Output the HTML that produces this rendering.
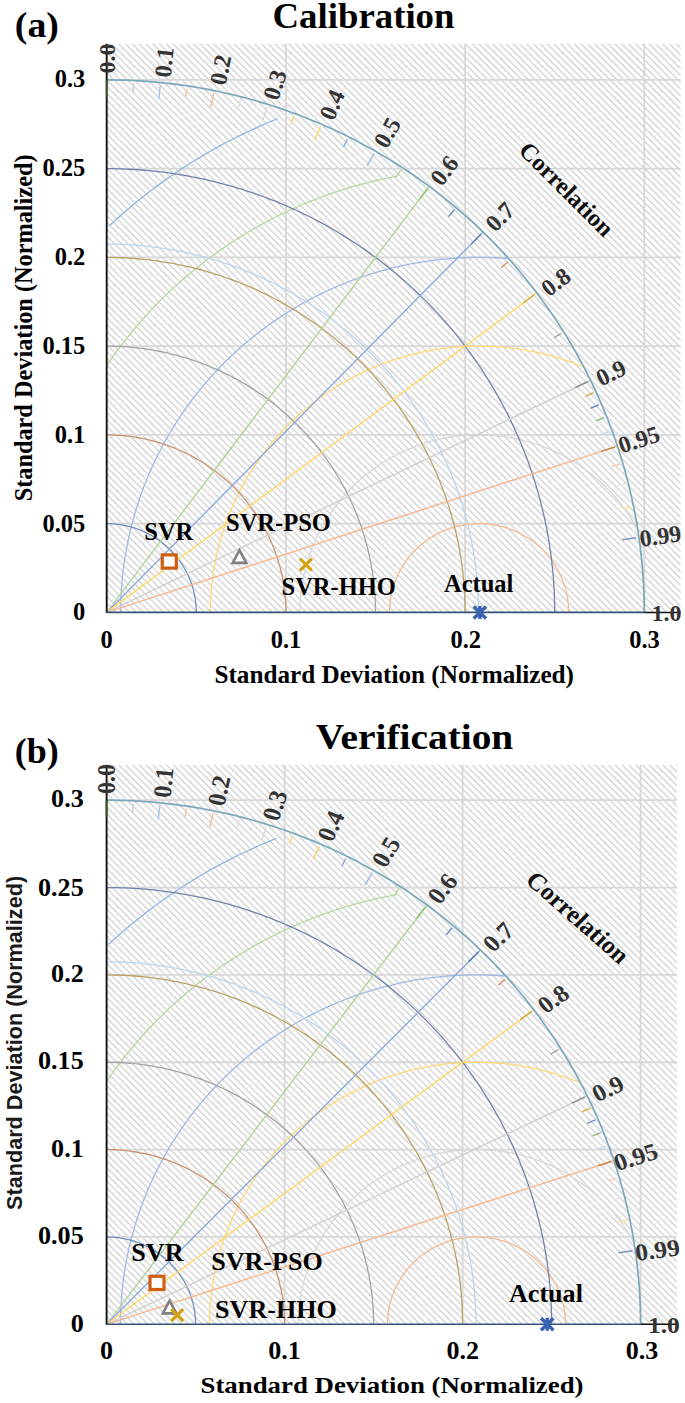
<!DOCTYPE html>
<html><head><meta charset="utf-8"><style>
html,body{margin:0;padding:0;background:#fff;width:685px;height:1403px;overflow:hidden}
svg{position:absolute;left:0;top:0}
text{font-family:"Liberation Serif",serif;font-weight:bold;fill:#000}
.cl{font-size:24px;fill:#333}
.cor{font-size:24.5px;fill:#111}
.dl{font-size:24.5px}
.tk{font-size:24.5px}
.ti{font-size:36.8px}
.pl{font-size:36px}
.ax{font-size:25px}
.axs{font-family:"Liberation Sans",sans-serif;font-weight:bold;fill:#1a1a1a}
</style></head><body>
<svg width="685" height="1403" viewBox="0 0 685 1403">
<defs>
<pattern id="hatch" patternUnits="userSpaceOnUse" width="6.8" height="6.8">
<path d="M-1,-1 L7.8,7.8 M-1,5.8 L1,7.8 M5.8,-1 L7.8,1" stroke="#cfcfcf" stroke-width="1.3"/>
</pattern>
</defs>
<rect x="106.7" y="43.8" width="573.8" height="568.6" fill="url(#hatch)"/>
<line x1="106.7" y1="523.65" x2="680.5" y2="523.65" stroke="#d8d8d8" stroke-width="1.8"/>
<line x1="106.7" y1="434.9" x2="680.5" y2="434.9" stroke="#d8d8d8" stroke-width="1.8"/>
<line x1="106.7" y1="346.15" x2="680.5" y2="346.15" stroke="#d8d8d8" stroke-width="1.8"/>
<line x1="106.7" y1="257.4" x2="680.5" y2="257.4" stroke="#d8d8d8" stroke-width="1.8"/>
<line x1="106.7" y1="168.65" x2="680.5" y2="168.65" stroke="#d8d8d8" stroke-width="1.8"/>
<line x1="106.7" y1="79.9" x2="680.5" y2="79.9" stroke="#d8d8d8" stroke-width="1.8"/>
<line x1="285.9" y1="43.8" x2="285.9" y2="612.4" stroke="#d8d8d8" stroke-width="1.8"/>
<line x1="465.1" y1="43.8" x2="465.1" y2="612.4" stroke="#d8d8d8" stroke-width="1.8"/>
<line x1="644.3" y1="43.8" x2="644.3" y2="612.4" stroke="#d8d8d8" stroke-width="1.8"/>
<path d="M568.68,612.4 L568.67,611.63 L568.66,610.85 L568.65,610.08 L568.62,609.3 L568.59,608.53 L568.55,607.76 L568.51,606.98 L568.46,606.21 L568.4,605.44 L568.34,604.66 L568.27,603.89 L568.19,603.12 L568.1,602.35 L568.01,601.58 L567.91,600.82 L567.81,600.05 L567.69,599.28 L567.57,598.52 L567.45,597.75 L567.32,596.99 L567.18,596.23 L567.03,595.47 L566.88,594.71 L566.72,593.95 L566.55,593.19 L566.38,592.44 L566.2,591.68 L566.02,590.93 L565.82,590.18 L565.62,589.43 L565.42,588.68 L565.21,587.94 L564.99,587.19 L564.76,586.45 L564.53,585.71 L564.29,584.97 L564.05,584.24 L563.8,583.51 L563.54,582.77 L563.27,582.05 L563,581.32 L562.73,580.59 L562.44,579.87 L562.15,579.15 L561.86,578.44 L561.55,577.72 L561.25,577.01 L560.93,576.3 L560.61,575.6 L560.28,574.89 L559.95,574.19 L559.61,573.49 L559.26,572.8 L558.91,572.11 L558.55,571.42 L558.19,570.73 L557.82,570.05 L557.44,569.37 L557.06,568.7 L556.67,568.02 L556.28,567.36 L555.88,566.69 L555.47,566.03 L555.06,565.37 L554.65,564.71 L554.22,564.06 L553.79,563.42 L553.36,562.77 L552.92,562.13 L552.47,561.5 L552.02,560.86 L551.57,560.23 L551.1,559.61 L550.64,558.99 L550.16,558.37 L549.68,557.76 L549.2,557.15 L548.71,556.55 L548.22,555.95 L547.72,555.35 L547.21,554.76 L546.7,554.17 L546.18,553.59 L545.66,553.01 L545.14,552.44 L544.61,551.87 L544.07,551.31 L543.53,550.75 L542.98,550.19 L542.43,549.64 L541.88,549.1 L541.32,548.56 L540.75,548.02 L540.18,547.49 L539.61,546.97 L539.03,546.45 L538.45,545.93 L537.86,545.42 L537.27,544.91 L536.67,544.41 L536.07,543.92 L535.46,543.43 L534.85,542.94 L534.24,542.46 L533.62,541.99 L533,541.52 L532.37,541.06 L531.74,540.6 L531.11,540.15 L530.47,539.7 L529.83,539.26 L529.18,538.82 L528.53,538.39 L527.88,537.97 L527.22,537.55 L526.56,537.14 L525.89,536.73 L525.23,536.33 L524.55,535.93 L523.88,535.54 L523.2,535.16 L522.52,534.78 L521.83,534.4 L521.14,534.04 L520.45,533.68 L519.76,533.32 L519.06,532.97 L518.36,532.63 L517.65,532.3 L516.94,531.97 L516.23,531.64 L515.52,531.32 L514.81,531.01 L514.09,530.71 L513.37,530.41 L512.64,530.11 L511.92,529.83 L511.19,529.54 L510.46,529.27 L509.72,529 L508.99,528.74 L508.25,528.49 L507.51,528.24 L506.77,527.99 L506.02,527.76 L505.27,527.53 L504.53,527.3 L503.77,527.09 L503.02,526.88 L502.27,526.67 L501.51,526.48 L500.75,526.29 L499.99,526.1 L499.23,525.92 L498.47,525.75 L497.71,525.59 L496.94,525.43 L496.17,525.28 L495.41,525.14 L494.64,525 L493.87,524.87 L493.09,524.74 L492.32,524.62 L491.55,524.51 L490.77,524.41 L490,524.31 L489.22,524.22 L488.44,524.14 L487.67,524.06 L486.89,523.99 L486.11,523.92 L485.33,523.87 L484.55,523.82 L483.77,523.77 L482.99,523.73 L482.2,523.7 L481.42,523.68 L480.64,523.66 L479.86,523.65 L479.08,523.65 L478.3,523.65 L477.51,523.66 L476.73,523.68 L475.95,523.7 L475.17,523.73 L474.39,523.77 L473.61,523.82 L472.83,523.87 L472.05,523.92 L471.27,523.99 L470.49,524.06 L469.71,524.14 L468.93,524.22 L468.16,524.31 L467.38,524.41 L466.61,524.51 L465.83,524.62 L465.06,524.74 L464.29,524.87 L463.52,525 L462.75,525.14 L461.98,525.28 L461.21,525.43 L460.45,525.59 L459.68,525.75 L458.92,525.92 L458.16,526.1 L457.4,526.29 L456.64,526.48 L455.89,526.67 L455.13,526.88 L454.38,527.09 L453.63,527.3 L452.88,527.53 L452.13,527.76 L451.39,527.99 L450.65,528.24 L449.91,528.49 L449.17,528.74 L448.43,529 L447.7,529.27 L446.97,529.54 L446.24,529.83 L445.51,530.11 L444.79,530.41 L444.07,530.71 L443.35,531.01 L442.63,531.32 L441.92,531.64 L441.21,531.97 L440.5,532.3 L439.8,532.63 L439.1,532.97 L438.4,533.32 L437.7,533.68 L437.01,534.04 L436.32,534.4 L435.64,534.78 L434.96,535.16 L434.28,535.54 L433.6,535.93 L432.93,536.33 L432.26,536.73 L431.6,537.14 L430.94,537.55 L430.28,537.97 L429.62,538.39 L428.97,538.82 L428.33,539.26 L427.69,539.7 L427.05,540.15 L426.41,540.6 L425.78,541.06 L425.15,541.52 L424.53,541.99 L423.91,542.46 L423.3,542.94 L422.69,543.43 L422.08,543.92 L421.48,544.41 L420.89,544.91 L420.29,545.42 L419.71,545.93 L419.12,546.45 L418.54,546.97 L417.97,547.49 L417.4,548.02 L416.84,548.56 L416.28,549.1 L415.72,549.64 L415.17,550.19 L414.62,550.75 L414.08,551.31 L413.55,551.87 L413.02,552.44 L412.49,553.01 L411.97,553.59 L411.46,554.17 L410.95,554.76 L410.44,555.35 L409.94,555.95 L409.45,556.55 L408.96,557.15 L408.47,557.76 L407.99,558.37 L407.52,558.99 L407.05,559.61 L406.59,560.23 L406.13,560.86 L405.68,561.5 L405.24,562.13 L404.8,562.77 L404.36,563.42 L403.93,564.06 L403.51,564.71 L403.09,565.37 L402.68,566.03 L402.28,566.69 L401.88,567.36 L401.48,568.02 L401.09,568.7 L400.71,569.37 L400.34,570.05 L399.97,570.73 L399.6,571.42 L399.24,572.11 L398.89,572.8 L398.55,573.49 L398.21,574.19 L397.87,574.89 L397.55,575.6 L397.22,576.3 L396.91,577.01 L396.6,577.72 L396.3,578.44 L396,579.15 L395.71,579.87 L395.43,580.59 L395.15,581.32 L394.88,582.05 L394.62,582.77 L394.36,583.51 L394.11,584.24 L393.86,584.97 L393.62,585.71 L393.39,586.45 L393.17,587.19 L392.95,587.94 L392.74,588.68 L392.53,589.43 L392.33,590.18 L392.14,590.93 L391.95,591.68 L391.77,592.44 L391.6,593.19 L391.44,593.95 L391.28,594.71 L391.12,595.47 L390.98,596.23 L390.84,596.99 L390.71,597.75 L390.58,598.52 L390.46,599.28 L390.35,600.05 L390.24,600.82 L390.15,601.58 L390.05,602.35 L389.97,603.12 L389.89,603.89 L389.82,604.66 L389.75,605.44 L389.7,606.21 L389.64,606.98 L389.6,607.76 L389.56,608.53 L389.53,609.3 L389.51,610.08 L389.49,610.85 L389.48,611.63 L389.48,612.4" fill="none" stroke="#f5bb93" stroke-width="1.3" />
<path d="M637.3,529.07 L636.56,527.7 L635.81,526.35 L635.05,524.99 L634.27,523.65 L633.48,522.31 L632.68,520.98 L631.87,519.66 L631.05,518.34 L630.21,517.03 L629.37,515.73 L628.51,514.43 L627.64,513.14 L626.76,511.86 L625.87,510.59 L624.97,509.33 L624.05,508.07 L623.13,506.82 L622.19,505.58 L621.25,504.34 L620.29,503.12 L619.32,501.9 L618.34,500.7 L617.35,499.5 L616.35,498.31 L615.34,497.12 L614.32,495.95 L613.29,494.78 L612.25,493.63 L611.2,492.48 L610.14,491.35 L609.06,490.22 L607.98,489.1 L606.89,487.99 L605.79,486.89 L604.68,485.8 L603.56,484.72 L602.43,483.65 L601.29,482.58 L600.14,481.53 L598.99,480.49 L597.82,479.46 L596.64,478.44 L595.46,477.43 L594.27,476.43 L593.06,475.44 L591.85,474.46 L590.63,473.49 L589.4,472.53 L588.17,471.58 L586.92,470.64 L585.67,469.72 L584.41,468.8 L583.14,467.89 L581.86,467 L580.58,466.12 L579.28,465.25 L577.98,464.39 L576.68,463.54 L575.36,462.7 L574.04,461.87 L572.71,461.06 L571.37,460.25 L570.03,459.46 L568.68,458.68 L567.32,457.91 L565.96,457.16 L564.58,456.41 L563.21,455.68 L561.82,454.96 L560.43,454.25 L559.04,453.55 L557.63,452.86 L556.23,452.19 L554.81,451.53 L553.39,450.88 L551.96,450.25 L550.53,449.62 L549.1,449.01 L547.65,448.41 L546.21,447.82 L544.75,447.25 L543.3,446.69 L541.83,446.14 L540.37,445.6 L538.9,445.08 L537.42,444.57 L535.94,444.07 L534.45,443.59 L532.96,443.12 L531.47,442.66 L529.97,442.21 L528.47,441.78 L526.97,441.36 L525.46,440.95 L523.95,440.55 L522.43,440.17 L520.91,439.8 L519.39,439.45 L517.86,439.11 L516.34,438.78 L514.8,438.46 L513.27,438.16 L511.73,437.87 L510.2,437.6 L508.65,437.33 L507.11,437.09 L505.57,436.85 L504.02,436.63 L502.47,436.42 L500.92,436.22 L499.36,436.04 L497.81,435.87 L496.25,435.72 L494.7,435.58 L493.14,435.45 L491.58,435.33 L490.02,435.23 L488.46,435.14 L486.89,435.07 L485.33,435.01 L483.77,434.96 L482.21,434.93 L480.64,434.91 L479.08,434.9 L477.51,434.91 L475.95,434.93 L474.39,434.96 L472.82,435.01 L471.26,435.07 L469.7,435.14 L468.14,435.23 L466.58,435.33 L465.02,435.45 L463.46,435.58 L461.9,435.72 L460.35,435.87 L458.79,436.04 L457.24,436.22 L455.69,436.42 L454.14,436.63 L452.59,436.85 L451.04,437.09 L449.5,437.33 L447.96,437.6 L446.42,437.87 L444.88,438.16 L443.35,438.46 L441.82,438.78 L440.29,439.11 L438.77,439.45 L437.24,439.8 L435.73,440.17 L434.21,440.55 L432.7,440.95 L431.19,441.36 L429.68,441.78 L428.18,442.21 L426.68,442.66 L425.19,443.12 L423.7,443.59 L422.22,444.07 L420.74,444.57 L419.26,445.08 L417.79,445.6 L416.32,446.14 L414.86,446.69 L413.4,447.25 L411.95,447.82 L410.5,448.41 L409.06,449.01 L407.62,449.62 L406.19,450.25 L404.76,450.88 L403.34,451.53 L401.93,452.19 L400.52,452.86 L399.12,453.55 L397.72,454.25 L396.33,454.96 L394.95,455.68 L393.57,456.41 L392.2,457.16 L390.84,457.91 L389.48,458.68 L388.13,459.46 L386.78,460.25 L385.45,461.06 L384.12,461.87 L382.79,462.7 L381.48,463.54 L380.17,464.39 L378.87,465.25 L377.58,466.12 L376.29,467 L375.02,467.89 L373.75,468.8 L372.49,469.72 L371.23,470.64 L369.99,471.58 L368.75,472.53 L367.52,473.49 L366.3,474.46 L365.09,475.44 L363.89,476.43 L362.7,477.43 L361.51,478.44 L360.34,479.46 L359.17,480.49 L358.01,481.53 L356.86,482.58 L355.72,483.65 L354.59,484.72 L353.47,485.8 L352.36,486.89 L351.26,487.99 L350.17,489.1 L349.09,490.22 L348.02,491.35 L346.96,492.48 L345.91,493.63 L344.86,494.78 L343.83,495.95 L342.81,497.12 L341.8,498.31 L340.8,499.5 L339.81,500.7 L338.83,501.9 L337.87,503.12 L336.91,504.34 L335.96,505.58 L335.03,506.82 L334.1,508.07 L333.19,509.33 L332.29,510.59 L331.39,511.86 L330.51,513.14 L329.65,514.43 L328.79,515.73 L327.94,517.03 L327.11,518.34 L326.28,519.66 L325.47,520.98 L324.67,522.31 L323.89,523.65 L323.11,524.99 L322.35,526.35 L321.59,527.7 L320.85,529.07 L320.13,530.44 L319.41,531.82 L318.71,533.2 L318.01,534.59 L317.33,535.98 L316.67,537.39 L316.01,538.79 L315.37,540.2 L314.74,541.62 L314.12,543.05 L313.52,544.47 L312.93,545.91 L312.35,547.35 L311.78,548.79 L311.23,550.24 L310.68,551.69 L310.16,553.15 L309.64,554.61 L309.14,556.08 L308.65,557.55 L308.17,559.02 L307.71,560.5 L307.26,561.99 L306.82,563.47 L306.4,564.97 L305.98,566.46 L305.59,567.96 L305.2,569.46 L304.83,570.96 L304.47,572.47 L304.13,573.98 L303.79,575.5 L303.48,577.01 L303.17,578.53 L302.88,580.05 L302.6,581.58 L302.34,583.1 L302.08,584.63 L301.85,586.16 L301.62,587.7 L301.41,589.23 L301.21,590.77 L301.03,592.31 L300.86,593.85 L300.7,595.39 L300.56,596.93 L300.43,598.47 L300.31,600.02 L300.21,601.56 L300.12,603.11 L300.05,604.66 L299.99,606.21 L299.94,607.75 L299.9,609.3 L299.88,610.85 L299.88,612.4" fill="none" stroke="#d8d8d8" stroke-width="1.3" />
<path d="M581.94,366.42 L579.77,365.54 L577.59,364.68 L575.41,363.83 L573.21,363.01 L571.01,362.21 L568.8,361.42 L566.59,360.66 L564.37,359.91 L562.14,359.18 L559.91,358.47 L557.67,357.78 L555.42,357.11 L553.17,356.46 L550.91,355.83 L548.65,355.22 L546.38,354.63 L544.11,354.06 L541.83,353.51 L539.54,352.97 L537.26,352.46 L534.96,351.97 L532.67,351.5 L530.37,351.04 L528.06,350.61 L525.75,350.19 L523.44,349.8 L521.13,349.43 L518.81,349.07 L516.49,348.74 L514.16,348.43 L511.84,348.13 L509.51,347.86 L507.17,347.61 L504.84,347.38 L502.51,347.16 L500.17,346.97 L497.83,346.8 L495.49,346.65 L493.15,346.51 L490.8,346.4 L488.46,346.31 L486.11,346.24 L483.77,346.19 L481.42,346.16 L479.08,346.15 L476.73,346.16 L474.39,346.19 L472.04,346.24 L469.7,346.31 L467.35,346.4 L465.01,346.51 L462.67,346.65 L460.33,346.8 L457.99,346.97 L455.65,347.16 L453.31,347.38 L450.98,347.61 L448.65,347.86 L446.32,348.13 L443.99,348.43 L441.67,348.74 L439.35,349.07 L437.03,349.43 L434.71,349.8 L432.4,350.19 L430.09,350.61 L427.79,351.04 L425.49,351.5 L423.19,351.97 L420.9,352.46 L418.61,352.97 L416.33,353.51 L414.05,354.06 L411.78,354.63 L409.51,355.22 L407.24,355.83 L404.99,356.46 L402.73,357.11 L400.49,357.78 L398.25,358.47 L396.01,359.18 L393.79,359.91 L391.56,360.66 L389.35,361.42 L387.14,362.21 L384.94,363.01 L382.75,363.83 L380.56,364.68 L378.38,365.54 L376.21,366.42 L374.05,367.32 L371.89,368.23 L369.75,369.17 L367.61,370.12 L365.48,371.1 L363.36,372.09 L361.24,373.1 L359.14,374.12 L357.04,375.17 L354.96,376.23 L352.88,377.32 L350.82,378.41 L348.76,379.53 L346.71,380.67 L344.68,381.82 L342.65,382.99 L340.64,384.18 L338.63,385.38 L336.64,386.61 L334.65,387.85 L332.68,389.1 L330.72,390.38 L328.77,391.67 L326.83,392.98 L324.9,394.3 L322.98,395.64 L321.08,397 L319.19,398.37 L317.31,399.76 L315.44,401.17 L313.59,402.59 L311.75,404.03 L309.92,405.48 L308.1,406.95 L306.3,408.44 L304.51,409.94 L302.73,411.46 L300.97,412.99 L299.22,414.54 L297.48,416.1 L295.76,417.68 L294.05,419.27 L292.35,420.88 L290.67,422.5 L289.01,424.13 L287.36,425.78 L285.72,427.45 L284.1,429.13 L282.49,430.82 L280.9,432.52 L279.32,434.24 L277.76,435.98 L276.21,437.72 L274.68,439.48 L273.16,441.26 L271.66,443.04 L270.18,444.84 L268.71,446.66 L267.26,448.48 L265.82,450.32 L264.4,452.17 L263,454.03 L261.61,455.9 L260.24,457.79 L258.89,459.69 L257.55,461.59 L256.23,463.51 L254.93,465.45 L253.64,467.39 L252.37,469.34 L251.12,471.31 L249.89,473.28 L248.67,475.27 L247.47,477.27 L246.29,479.27 L245.13,481.29 L243.98,483.32 L242.85,485.36 L241.74,487.4 L240.65,489.46 L239.58,491.53 L238.52,493.6 L237.48,495.68 L236.46,497.78 L235.46,499.88 L234.48,501.99 L233.52,504.11 L232.57,506.23 L231.65,508.37 L230.74,510.51 L229.85,512.66 L228.98,514.82 L228.13,516.98 L227.3,519.16 L226.49,521.34 L225.7,523.52 L224.92,525.72 L224.17,527.92 L223.43,530.12 L222.72,532.34 L222.02,534.56 L221.35,536.78 L220.69,539.01 L220.05,541.25 L219.44,543.49 L218.84,545.74 L218.26,547.99 L217.7,550.25 L217.17,552.51 L216.65,554.77 L216.15,557.04 L215.67,559.32 L215.22,561.6 L214.78,563.88 L214.36,566.17 L213.96,568.46 L213.59,570.75 L213.23,573.05 L212.89,575.35 L212.58,577.65 L212.28,579.95 L212.01,582.26 L211.75,584.57 L211.52,586.88 L211.3,589.19 L211.11,591.51 L210.93,593.83 L210.78,596.15 L210.65,598.47 L210.53,600.79 L210.44,603.11 L210.37,605.43 L210.32,607.75 L210.29,610.08 L210.28,612.4" fill="none" stroke="#fdd978" stroke-width="1.3" />
<path d="M507.2,258.49 L504.08,258.26 L500.96,258.06 L497.83,257.89 L494.71,257.74 L491.59,257.62 L488.46,257.52 L485.33,257.45 L482.21,257.41 L479.08,257.4 L475.95,257.41 L472.82,257.45 L469.7,257.52 L466.57,257.62 L463.44,257.74 L460.32,257.89 L457.2,258.06 L454.08,258.26 L450.96,258.49 L447.84,258.75 L444.73,259.03 L441.61,259.34 L438.51,259.68 L435.4,260.05 L432.3,260.44 L429.2,260.85 L426.1,261.3 L423.01,261.77 L419.92,262.27 L416.84,262.79 L413.76,263.34 L410.69,263.92 L407.62,264.53 L404.56,265.16 L401.51,265.81 L398.46,266.5 L395.41,267.21 L392.37,267.95 L389.34,268.71 L386.32,269.5 L383.3,270.31 L380.29,271.15 L377.29,272.02 L374.29,272.91 L371.3,273.83 L368.33,274.77 L365.36,275.75 L362.39,276.74 L359.44,277.76 L356.5,278.81 L353.56,279.88 L350.64,280.98 L347.72,282.1 L344.82,283.25 L341.92,284.42 L339.04,285.62 L336.17,286.84 L333.3,288.09 L330.45,289.36 L327.61,290.66 L324.78,291.98 L321.97,293.33 L319.16,294.7 L316.37,296.09 L313.59,297.51 L310.82,298.95 L308.06,300.42 L305.32,301.91 L302.59,303.42 L299.88,304.96 L297.18,306.52 L294.49,308.11 L291.81,309.71 L289.15,311.34 L286.51,313 L283.88,314.67 L281.26,316.37 L278.66,318.09 L276.08,319.84 L273.51,321.6 L270.95,323.39 L268.42,325.2 L265.89,327.03 L263.39,328.88 L260.9,330.76 L258.42,332.66 L255.97,334.57 L253.53,336.51 L251.11,338.47 L248.7,340.45 L246.32,342.46 L243.95,344.48 L241.59,346.52 L239.26,348.58 L236.95,350.67 L234.65,352.77 L232.37,354.89 L230.11,357.03 L227.87,359.2 L225.65,361.38 L223.45,363.58 L221.27,365.8 L219.1,368.03 L216.96,370.29 L214.84,372.57 L212.73,374.86 L210.65,377.17 L208.59,379.5 L206.55,381.85 L204.53,384.21 L202.53,386.59 L200.55,388.99 L198.59,391.41 L196.65,393.84 L194.74,396.29 L192.85,398.76 L190.98,401.24 L189.13,403.74 L187.3,406.25 L185.49,408.78 L183.71,411.33 L181.95,413.89 L180.21,416.46 L178.5,419.05 L176.81,421.66 L175.14,424.28 L173.49,426.91 L171.87,429.56 L170.27,432.22 L168.69,434.9 L167.14,437.59 L165.61,440.29 L164.11,443.01 L162.63,445.74 L161.17,448.48 L159.74,451.23 L158.33,454 L156.95,456.78 L155.59,459.57 L154.26,462.37 L152.95,465.18 L151.66,468.01 L150.4,470.84 L149.17,473.69 L147.96,476.55 L146.77,479.41 L145.62,482.29 L144.48,485.18 L143.37,488.08 L142.29,490.98 L141.23,493.9 L140.2,496.82 L139.2,499.76 L138.22,502.7 L137.27,505.65 L136.34,508.61 L135.44,511.57 L134.56,514.55 L133.71,517.53 L132.89,520.52 L132.09,523.52 L131.32,526.52 L130.58,529.53 L129.86,532.54 L129.17,535.56 L128.51,538.59 L127.87,541.62 L127.26,544.66 L126.68,547.71 L126.12,550.75 L125.59,553.81 L125.09,556.87 L124.61,559.93 L124.17,562.99 L123.74,566.06 L123.35,569.14 L122.98,572.21 L122.64,575.29 L122.33,578.37 L122.04,581.46 L121.78,584.55 L121.55,587.64 L121.35,590.73 L121.17,593.82 L121.02,596.92 L120.9,600.01 L120.8,603.11 L120.73,606.2 L120.69,609.3 L120.68,612.4" fill="none" stroke="#a0bae5" stroke-width="1.3" />
<path d="M397.44,176.08 L393.6,176.8 L389.76,177.56 L385.93,178.35 L382.11,179.17 L378.3,180.02 L374.49,180.91 L370.7,181.83 L366.91,182.78 L363.13,183.77 L359.35,184.79 L355.59,185.84 L351.84,186.92 L348.1,188.04 L344.36,189.19 L340.64,190.37 L336.93,191.58 L333.22,192.83 L329.53,194.1 L325.85,195.41 L322.18,196.75 L318.53,198.12 L314.89,199.53 L311.25,200.96 L307.64,202.43 L304.03,203.93 L300.44,205.45 L296.86,207.01 L293.3,208.6 L289.74,210.23 L286.21,211.88 L282.69,213.56 L279.18,215.27 L275.69,217.02 L272.21,218.79 L268.75,220.59 L265.31,222.42 L261.88,224.29 L258.47,226.18 L255.08,228.1 L251.7,230.05 L248.34,232.03 L245,234.04 L241.67,236.08 L238.37,238.15 L235.08,240.24 L231.81,242.36 L228.56,244.51 L225.33,246.69 L222.12,248.9 L218.92,251.14 L215.75,253.4 L212.6,255.69 L209.46,258.01 L206.35,260.35 L203.26,262.72 L200.19,265.12 L197.14,267.54 L194.11,269.99 L191.11,272.47 L188.12,274.97 L185.16,277.5 L182.22,280.05 L179.31,282.63 L176.41,285.23 L173.54,287.86 L170.69,290.52 L167.87,293.19 L165.07,295.9 L162.29,298.62 L159.54,301.37 L156.81,304.15 L154.11,306.94 L151.43,309.76 L148.78,312.61 L146.15,315.47 L143.55,318.36 L140.97,321.27 L138.42,324.21 L135.89,327.16 L133.39,330.14 L130.92,333.14 L128.47,336.16 L126.05,339.2 L123.66,342.26 L121.29,345.34 L118.95,348.45 L116.64,351.57 L114.35,354.71 L112.1,357.88 L109.87,361.06 L107.67,364.26" fill="none" stroke="#b7d8a0" stroke-width="1.3" />
<path d="M277.69,118.67 L273.35,120.43 L269.02,122.23 L264.71,124.07 L260.42,125.94 L256.14,127.85 L251.88,129.79 L247.63,131.77 L243.41,133.79 L239.2,135.85 L235.01,137.94 L230.84,140.07 L226.69,142.23 L222.56,144.43 L218.44,146.67 L214.35,148.94 L210.28,151.24 L206.22,153.58 L202.19,155.96 L198.18,158.37 L194.19,160.81 L190.23,163.29 L186.28,165.81 L182.36,168.36 L178.46,170.94 L174.58,173.55 L170.72,176.2 L166.89,178.88 L163.08,181.6 L159.3,184.35 L155.54,187.13 L151.81,189.94 L148.1,192.78 L144.41,195.66 L140.75,198.57 L137.12,201.51 L133.51,204.48 L129.93,207.48 L126.38,210.52 L122.85,213.58 L119.35,216.68 L115.88,219.8 L112.44,222.95 L109.02,226.14" fill="none" stroke="#92b6e1" stroke-width="1.3" />
<path d="M196.3,612.4 L196.3,611.63 L196.29,610.85 L196.27,610.08 L196.25,609.3 L196.21,608.53 L196.18,607.76 L196.13,606.98 L196.08,606.21 L196.02,605.44 L195.96,604.66 L195.89,603.89 L195.81,603.12 L195.72,602.35 L195.63,601.58 L195.53,600.82 L195.43,600.05 L195.32,599.28 L195.2,598.52 L195.07,597.75 L194.94,596.99 L194.8,596.23 L194.65,595.47 L194.5,594.71 L194.34,593.95 L194.18,593.19 L194,592.44 L193.82,591.68 L193.64,590.93 L193.45,590.18 L193.25,589.43 L193.04,588.68 L192.83,587.94 L192.61,587.19 L192.38,586.45 L192.15,585.71 L191.91,584.97 L191.67,584.24 L191.42,583.51 L191.16,582.77 L190.9,582.05 L190.63,581.32 L190.35,580.59 L190.07,579.87 L189.78,579.15 L189.48,578.44 L189.18,577.72 L188.87,577.01 L188.55,576.3 L188.23,575.6 L187.91,574.89 L187.57,574.19 L187.23,573.49 L186.89,572.8 L186.53,572.11 L186.18,571.42 L185.81,570.73 L185.44,570.05 L185.07,569.37 L184.68,568.7 L184.3,568.02 L183.9,567.36 L183.5,566.69 L183.1,566.03 L182.69,565.37 L182.27,564.71 L181.84,564.06 L181.42,563.42 L180.98,562.77 L180.54,562.13 L180.1,561.5 L179.64,560.86 L179.19,560.23 L178.73,559.61 L178.26,558.99 L177.78,558.37 L177.31,557.76 L176.82,557.15 L176.33,556.55 L175.84,555.95 L175.34,555.35 L174.83,554.76 L174.32,554.17 L173.81,553.59 L173.29,553.01 L172.76,552.44 L172.23,551.87 L171.69,551.31 L171.15,550.75 L170.61,550.19 L170.06,549.64 L169.5,549.1 L168.94,548.56 L168.38,548.02 L167.81,547.49 L167.23,546.97 L166.65,546.45 L166.07,545.93 L165.48,545.42 L164.89,544.91 L164.29,544.41 L163.69,543.92 L163.09,543.43 L162.48,542.94 L161.86,542.46 L161.25,541.99 L160.62,541.52 L160,541.06 L159.37,540.6 L158.73,540.15 L158.09,539.7 L157.45,539.26 L156.8,538.82 L156.15,538.39 L155.5,537.97 L154.84,537.55 L154.18,537.14 L153.52,536.73 L152.85,536.33 L152.18,535.93 L151.5,535.54 L150.82,535.16 L150.14,534.78 L149.45,534.4 L148.76,534.04 L148.07,533.68 L147.38,533.32 L146.68,532.97 L145.98,532.63 L145.27,532.3 L144.57,531.97 L143.86,531.64 L143.14,531.32 L142.43,531.01 L141.71,530.71 L140.99,530.41 L140.26,530.11 L139.54,529.83 L138.81,529.54 L138.08,529.27 L137.35,529 L136.61,528.74 L135.87,528.49 L135.13,528.24 L134.39,527.99 L133.64,527.76 L132.9,527.53 L132.15,527.3 L131.4,527.09 L130.64,526.88 L129.89,526.67 L129.13,526.48 L128.38,526.29 L127.62,526.1 L126.86,525.92 L126.09,525.75 L125.33,525.59 L124.56,525.43 L123.8,525.28 L123.03,525.14 L122.26,525 L121.49,524.87 L120.72,524.74 L119.94,524.62 L119.17,524.51 L118.4,524.41 L117.62,524.31 L116.84,524.22 L116.07,524.14 L115.29,524.06 L114.51,523.99 L113.73,523.92 L112.95,523.87 L112.17,523.82 L111.39,523.77 L110.61,523.73 L109.83,523.7 L109.05,523.68 L108.26,523.66 L107.48,523.65 L106.7,523.65" fill="none" stroke="#7191c2" stroke-width="1.3" />
<path d="M285.9,612.4 L285.89,610.85 L285.87,609.3 L285.84,607.75 L285.79,606.21 L285.73,604.66 L285.65,603.11 L285.57,601.56 L285.46,600.02 L285.35,598.47 L285.22,596.93 L285.07,595.39 L284.92,593.85 L284.75,592.31 L284.56,590.77 L284.37,589.23 L284.16,587.7 L283.93,586.16 L283.69,584.63 L283.44,583.1 L283.18,581.58 L282.9,580.05 L282.61,578.53 L282.3,577.01 L281.98,575.5 L281.65,573.98 L281.31,572.47 L280.95,570.96 L280.58,569.46 L280.19,567.96 L279.79,566.46 L279.38,564.97 L278.96,563.47 L278.52,561.99 L278.07,560.5 L277.61,559.02 L277.13,557.55 L276.64,556.08 L276.14,554.61 L275.62,553.15 L275.09,551.69 L274.55,550.24 L274,548.79 L273.43,547.35 L272.85,545.91 L272.26,544.47 L271.65,543.05 L271.04,541.62 L270.41,540.2 L269.77,538.79 L269.11,537.39 L268.44,535.98 L267.76,534.59 L267.07,533.2 L266.37,531.82 L265.65,530.44 L264.92,529.07 L264.18,527.7 L263.43,526.35 L262.67,524.99 L261.89,523.65 L261.1,522.31 L260.3,520.98 L259.49,519.66 L258.67,518.34 L257.84,517.03 L256.99,515.73 L256.13,514.43 L255.26,513.14 L254.38,511.86 L253.49,510.59 L252.59,509.33 L251.68,508.07 L250.75,506.82 L249.82,505.58 L248.87,504.34 L247.91,503.12 L246.94,501.9 L245.96,500.7 L244.98,499.5 L243.98,498.31 L242.96,497.12 L241.94,495.95 L240.91,494.78 L239.87,493.63 L238.82,492.48 L237.76,491.35 L236.69,490.22 L235.61,489.1 L234.51,487.99 L233.41,486.89 L232.3,485.8 L231.18,484.72 L230.05,483.65 L228.91,482.58 L227.77,481.53 L226.61,480.49 L225.44,479.46 L224.27,478.44 L223.08,477.43 L221.89,476.43 L220.69,475.44 L219.47,474.46 L218.25,473.49 L217.03,472.53 L215.79,471.58 L214.55,470.64 L213.29,469.72 L212.03,468.8 L210.76,467.89 L209.48,467 L208.2,466.12 L206.91,465.25 L205.61,464.39 L204.3,463.54 L202.98,462.7 L201.66,461.87 L200.33,461.06 L198.99,460.25 L197.65,459.46 L196.3,458.68 L194.94,457.91 L193.58,457.16 L192.21,456.41 L190.83,455.68 L189.45,454.96 L188.06,454.25 L186.66,453.55 L185.26,452.86 L183.85,452.19 L182.43,451.53 L181.01,450.88 L179.59,450.25 L178.16,449.62 L176.72,449.01 L175.28,448.41 L173.83,447.82 L172.38,447.25 L170.92,446.69 L169.46,446.14 L167.99,445.6 L166.52,445.08 L165.04,444.57 L163.56,444.07 L162.08,443.59 L160.59,443.12 L159.09,442.66 L157.6,442.21 L156.09,441.78 L154.59,441.36 L153.08,440.95 L151.57,440.55 L150.05,440.17 L148.53,439.8 L147.01,439.45 L145.49,439.11 L143.96,438.78 L142.43,438.46 L140.89,438.16 L139.36,437.87 L137.82,437.6 L136.28,437.33 L134.73,437.09 L133.19,436.85 L131.64,436.63 L130.09,436.42 L128.54,436.22 L126.99,436.04 L125.43,435.87 L123.88,435.72 L122.32,435.58 L120.76,435.45 L119.2,435.33 L117.64,435.23 L116.08,435.14 L114.52,435.07 L112.95,435.01 L111.39,434.96 L109.83,434.93 L108.26,434.91 L106.7,434.9" fill="none" stroke="#c99272" stroke-width="1.3" />
<path d="M375.5,612.4 L375.49,610.08 L375.46,607.75 L375.41,605.43 L375.34,603.11 L375.24,600.79 L375.13,598.47 L375,596.15 L374.85,593.83 L374.67,591.51 L374.48,589.19 L374.26,586.88 L374.03,584.57 L373.77,582.26 L373.5,579.95 L373.2,577.65 L372.88,575.35 L372.55,573.05 L372.19,570.75 L371.81,568.46 L371.42,566.17 L371,563.88 L370.56,561.6 L370.1,559.32 L369.63,557.04 L369.13,554.77 L368.61,552.51 L368.07,550.25 L367.52,547.99 L366.94,545.74 L366.34,543.49 L365.72,541.25 L365.09,539.01 L364.43,536.78 L363.75,534.56 L363.06,532.34 L362.34,530.12 L361.61,527.92 L360.86,525.72 L360.08,523.52 L359.29,521.34 L358.48,519.16 L357.65,516.98 L356.8,514.82 L355.93,512.66 L355.04,510.51 L354.13,508.37 L353.21,506.23 L352.26,504.11 L351.3,501.99 L350.32,499.88 L349.31,497.78 L348.3,495.68 L347.26,493.6 L346.2,491.53 L345.13,489.46 L344.04,487.4 L342.93,485.36 L341.8,483.32 L340.65,481.29 L339.49,479.27 L338.31,477.27 L337.11,475.27 L335.89,473.28 L334.66,471.31 L333.4,469.34 L332.13,467.39 L330.85,465.45 L329.55,463.51 L328.23,461.59 L326.89,459.69 L325.53,457.79 L324.16,455.9 L322.78,454.03 L321.37,452.17 L319.95,450.32 L318.52,448.48 L317.07,446.66 L315.6,444.84 L314.11,443.04 L312.61,441.26 L311.1,439.48 L309.57,437.72 L308.02,435.98 L306.46,434.24 L304.88,432.52 L303.29,430.82 L301.68,429.13 L300.06,427.45 L298.42,425.78 L296.77,424.13 L295.1,422.5 L293.42,420.88 L291.73,419.27 L290.02,417.68 L288.3,416.1 L286.56,414.54 L284.81,412.99 L283.05,411.46 L281.27,409.94 L279.48,408.44 L277.68,406.95 L275.86,405.48 L274.03,404.03 L272.19,402.59 L270.34,401.17 L268.47,399.76 L266.59,398.37 L264.7,397 L262.79,395.64 L260.88,394.3 L258.95,392.98 L257.01,391.67 L255.06,390.38 L253.1,389.1 L251.13,387.85 L249.14,386.61 L247.15,385.38 L245.14,384.18 L243.13,382.99 L241.1,381.82 L239.06,380.67 L237.02,379.53 L234.96,378.41 L232.89,377.32 L230.82,376.23 L228.73,375.17 L226.64,374.12 L224.53,373.1 L222.42,372.09 L220.3,371.1 L218.17,370.12 L216.03,369.17 L213.88,368.23 L211.73,367.32 L209.57,366.42 L207.39,365.54 L205.22,364.68 L203.03,363.83 L200.84,363.01 L198.64,362.21 L196.43,361.42 L194.21,360.66 L191.99,359.91 L189.76,359.18 L187.53,358.47 L185.29,357.78 L183.04,357.11 L180.79,356.46 L178.53,355.83 L176.27,355.22 L174,354.63 L171.73,354.06 L169.45,353.51 L167.17,352.97 L164.88,352.46 L162.59,351.97 L160.29,351.5 L157.99,351.04 L155.68,350.61 L153.38,350.19 L151.06,349.8 L148.75,349.43 L146.43,349.07 L144.11,348.74 L141.79,348.43 L139.46,348.13 L137.13,347.86 L134.8,347.61 L132.46,347.38 L130.13,347.16 L127.79,346.97 L125.45,346.8 L123.11,346.65 L120.77,346.51 L118.42,346.4 L116.08,346.31 L113.74,346.24 L111.39,346.19 L109.05,346.16 L106.7,346.15" fill="none" stroke="#a4a4a4" stroke-width="1.3" />
<path d="M465.1,612.4 L465.09,609.3 L465.05,606.2 L464.98,603.11 L464.88,600.01 L464.76,596.92 L464.61,593.82 L464.43,590.73 L464.23,587.64 L464,584.55 L463.74,581.46 L463.45,578.37 L463.14,575.29 L462.8,572.21 L462.43,569.14 L462.03,566.06 L461.61,562.99 L461.16,559.93 L460.69,556.87 L460.18,553.81 L459.66,550.75 L459.1,547.71 L458.52,544.66 L457.91,541.62 L457.27,538.59 L456.6,535.56 L455.91,532.54 L455.2,529.53 L454.45,526.52 L453.68,523.52 L452.89,520.52 L452.07,517.53 L451.22,514.55 L450.34,511.57 L449.44,508.61 L448.51,505.65 L447.56,502.7 L446.58,499.76 L445.57,496.82 L444.54,493.9 L443.49,490.98 L442.4,488.08 L441.3,485.18 L440.16,482.29 L439,479.41 L437.82,476.55 L436.61,473.69 L435.37,470.84 L434.11,468.01 L432.83,465.18 L431.52,462.37 L430.19,459.57 L428.83,456.78 L427.44,454 L426.04,451.23 L424.6,448.48 L423.15,445.74 L421.67,443.01 L420.16,440.29 L418.64,437.59 L417.08,434.9 L415.51,432.22 L413.91,429.56 L412.29,426.91 L410.64,424.28 L408.97,421.66 L407.28,419.05 L405.56,416.46 L403.83,413.89 L402.07,411.33 L400.28,408.78 L398.48,406.25 L396.65,403.74 L394.8,401.24 L392.93,398.76 L391.04,396.29 L389.12,393.84 L387.19,391.41 L385.23,388.99 L383.25,386.59 L381.25,384.21 L379.23,381.85 L377.19,379.5 L375.13,377.17 L373.04,374.86 L370.94,372.57 L368.82,370.29 L366.67,368.03 L364.51,365.8 L362.33,363.58 L360.13,361.38 L357.91,359.2 L355.67,357.03 L353.41,354.89 L351.13,352.77 L348.83,350.67 L346.52,348.58 L344.18,346.52 L341.83,344.48 L339.46,342.46 L337.08,340.45 L334.67,338.47 L332.25,336.51 L329.81,334.57 L327.35,332.66 L324.88,330.76 L322.39,328.88 L319.88,327.03 L317.36,325.2 L314.82,323.39 L312.27,321.6 L309.7,319.84 L307.11,318.09 L304.51,316.37 L301.9,314.67 L299.27,313 L296.62,311.34 L293.96,309.71 L291.29,308.11 L288.6,306.52 L285.9,304.96 L283.18,303.42 L280.46,301.91 L277.71,300.42 L274.96,298.95 L272.19,297.51 L269.41,296.09 L266.62,294.7 L263.81,293.33 L261,291.98 L258.17,290.66 L255.33,289.36 L252.47,288.09 L249.61,286.84 L246.74,285.62 L243.85,284.42 L240.96,283.25 L238.05,282.1 L235.14,280.98 L232.21,279.88 L229.28,278.81 L226.34,277.76 L223.38,276.74 L220.42,275.75 L217.45,274.77 L214.47,273.83 L211.49,272.91 L208.49,272.02 L205.49,271.15 L202.48,270.31 L199.46,269.5 L196.44,268.71 L193.4,267.95 L190.37,267.21 L187.32,266.5 L184.27,265.81 L181.22,265.16 L178.15,264.53 L175.09,263.92 L172.01,263.34 L168.94,262.79 L165.85,262.27 L162.77,261.77 L159.67,261.3 L156.58,260.85 L153.48,260.44 L150.38,260.05 L147.27,259.68 L144.16,259.34 L141.05,259.03 L137.94,258.75 L134.82,258.49 L131.7,258.26 L128.58,258.06 L125.46,257.89 L122.33,257.74 L119.21,257.62 L116.08,257.52 L112.95,257.45 L109.83,257.41 L106.7,257.4" fill="none" stroke="#bca263" stroke-width="1.3" />
<path d="M478.54,612.4 L478.53,609.19 L478.48,605.97 L478.41,602.76 L478.31,599.55 L478.19,596.33 L478.03,593.12 L477.85,589.92 L477.63,586.71 L477.39,583.5 L477.13,580.3 L476.83,577.1 L476.5,573.9 L476.15,570.71 L475.77,567.51 L475.36,564.33 L474.92,561.14 L474.46,557.96 L473.96,554.78 L473.44,551.61 L472.89,548.44 L472.31,545.28 L471.71,542.12 L471.08,538.97 L470.41,535.82 L469.73,532.68 L469.01,529.55 L468.27,526.42 L467.49,523.3 L466.7,520.18 L465.87,517.07 L465.02,513.97 L464.14,510.88 L463.23,507.79 L462.29,504.72 L461.33,501.65 L460.34,498.59 L459.32,495.53 L458.28,492.49 L457.21,489.45 L456.12,486.43 L454.99,483.41 L453.84,480.41 L452.67,477.41 L451.46,474.43 L450.24,471.45 L448.98,468.49 L447.7,465.54 L446.39,462.59 L445.06,459.66 L443.7,456.74 L442.32,453.84 L440.91,450.94 L439.47,448.06 L438.01,445.19 L436.53,442.33 L435.02,439.49 L433.48,436.66 L431.92,433.84 L430.33,431.03 L428.72,428.24 L427.09,425.47 L425.43,422.71 L423.75,419.96 L422.04,417.22 L420.31,414.51 L418.55,411.8 L416.77,409.11 L414.97,406.44 L413.14,403.79 L411.29,401.14 L409.42,398.52 L407.52,395.91 L405.61,393.32 L403.66,390.74 L401.7,388.19 L399.71,385.64 L397.71,383.12 L395.67,380.61 L393.62,378.12 L391.55,375.65 L389.45,373.2 L387.33,370.77 L385.19,368.35 L383.03,365.95 L380.85,363.57 L378.65,361.21 L376.42,358.87 L374.18,356.55 L371.92,354.25 L369.63,351.96 L367.33,349.7 L365,347.46 L362.66,345.24 L360.29,343.03 L357.91,340.85 L355.51,338.69 L353.09,336.55 L350.65,334.43 L348.19,332.33 L345.71,330.26 L343.22,328.2 L340.71,326.17 L338.18,324.16 L335.63,322.17 L333.06,320.2 L330.48,318.25 L327.88,316.33 L325.26,314.43 L322.63,312.55 L319.98,310.7 L317.31,308.86 L314.63,307.06 L311.93,305.27 L309.22,303.51 L306.49,301.77 L303.75,300.05 L300.99,298.36 L298.21,296.69 L295.42,295.05 L292.62,293.43 L289.8,291.84 L286.97,290.27 L284.13,288.72 L281.27,287.2 L278.4,285.7 L275.51,284.23 L272.61,282.78 L269.7,281.36 L266.78,279.97 L263.85,278.6 L260.9,277.25 L257.94,275.93 L254.97,274.64 L251.99,273.37 L249,272.12 L245.99,270.91 L242.98,269.72 L239.96,268.55 L236.92,267.41 L233.88,266.3 L230.82,265.21 L227.76,264.15 L224.69,263.12 L221.6,262.11 L218.51,261.13 L215.42,260.18 L212.31,259.25 L209.19,258.36 L206.07,257.48 L202.94,256.64 L199.8,255.82 L196.66,255.03 L193.5,254.26 L190.35,253.53 L187.18,252.82 L184.01,252.14 L180.83,251.48 L177.65,250.85 L174.46,250.25 L171.27,249.68 L168.07,249.14 L164.87,248.62 L161.66,248.13 L158.45,247.67 L155.23,247.24 L152.02,246.83 L148.79,246.46 L145.57,246.11 L142.34,245.78 L139.11,245.49 L135.87,245.22 L132.64,244.98 L129.4,244.77 L126.16,244.59 L122.92,244.44 L119.68,244.31 L116.43,244.21 L113.19,244.14 L109.94,244.1 L106.7,244.09" fill="none" stroke="#bdd5ef" stroke-width="1.3" />
<path d="M554.7,612.4 L554.68,608.53 L554.63,604.66 L554.55,600.78 L554.43,596.91 L554.27,593.04 L554.09,589.18 L553.86,585.31 L553.61,581.45 L553.32,577.58 L553,573.72 L552.64,569.87 L552.25,566.02 L551.82,562.17 L551.36,558.32 L550.87,554.48 L550.34,550.64 L549.78,546.81 L549.18,542.98 L548.56,539.16 L547.89,535.34 L547.2,531.53 L546.47,527.73 L545.71,523.93 L544.91,520.14 L544.08,516.35 L543.22,512.58 L542.32,508.81 L541.39,505.05 L540.43,501.29 L539.43,497.55 L538.41,493.81 L537.35,490.09 L536.25,486.37 L535.12,482.66 L533.97,478.96 L532.77,475.27 L531.55,471.6 L530.29,467.93 L529,464.27 L527.68,460.63 L526.33,457 L524.94,453.37 L523.53,449.77 L522.08,446.17 L520.6,442.58 L519.09,439.01 L517.54,435.46 L515.97,431.91 L514.36,428.38 L512.73,424.86 L511.06,421.36 L509.36,417.87 L507.63,414.4 L505.87,410.94 L504.08,407.5 L502.26,404.07 L500.41,400.66 L498.53,397.27 L496.62,393.89 L494.68,390.52 L492.71,387.18 L490.71,383.85 L488.68,380.54 L486.63,377.25 L484.54,373.97 L482.42,370.72 L480.28,367.48 L478.11,364.26 L475.91,361.06 L473.68,357.88 L471.42,354.71 L469.14,351.57 L466.83,348.45 L464.49,345.34 L462.12,342.26 L459.73,339.2 L457.31,336.16 L454.86,333.14 L452.39,330.14 L449.89,327.16 L447.36,324.21 L444.81,321.27 L442.23,318.36 L439.63,315.47 L437,312.61 L434.35,309.76 L431.67,306.94 L428.96,304.15 L426.24,301.37 L423.48,298.62 L420.71,295.9 L417.91,293.19 L415.08,290.52 L412.24,287.86 L409.36,285.23 L406.47,282.63 L403.55,280.05 L400.61,277.5 L397.65,274.97 L394.67,272.47 L391.66,269.99 L388.64,267.54 L385.59,265.12 L382.52,262.72 L379.43,260.35 L376.31,258.01 L373.18,255.69 L370.03,253.4 L366.85,251.14 L363.66,248.9 L360.45,246.69 L357.22,244.51 L353.97,242.36 L350.7,240.24 L347.41,238.15 L344.1,236.08 L340.78,234.04 L337.44,232.03 L334.08,230.05 L330.7,228.1 L327.31,226.18 L323.89,224.29 L320.47,222.42 L317.02,220.59 L313.56,218.79 L310.09,217.02 L306.6,215.27 L303.09,213.56 L299.57,211.88 L296.03,210.23 L292.48,208.6 L288.92,207.01 L285.34,205.45 L281.75,203.93 L278.14,202.43 L274.52,200.96 L270.89,199.53 L267.25,198.12 L263.59,196.75 L259.93,195.41 L256.25,194.1 L252.55,192.83 L248.85,191.58 L245.14,190.37 L241.42,189.19 L237.68,188.04 L233.94,186.92 L230.19,185.84 L226.42,184.79 L222.65,183.77 L218.87,182.78 L215.08,181.83 L211.28,180.91 L207.48,180.02 L203.66,179.17 L199.84,178.35 L196.02,177.56 L192.18,176.8 L188.34,176.08 L184.49,175.39 L180.64,174.74 L176.78,174.11 L172.92,173.52 L169.05,172.97 L165.18,172.45 L161.3,171.96 L157.42,171.5 L153.53,171.08 L149.64,170.69 L145.75,170.34 L141.85,170.02 L137.95,169.73 L134.05,169.48 L130.15,169.26 L126.24,169.07 L122.33,168.92 L118.43,168.8 L114.52,168.72 L110.61,168.67 L106.7,168.65" fill="none" stroke="#7282aa" stroke-width="1.3" />
<path d="M106.7,612.4 L429.26,186.4" fill="none" stroke="#b2d59a" stroke-width="1.4" />
<path d="M106.7,612.4 L483.02,232.12" fill="none" stroke="#8fabdc" stroke-width="1.4" />
<path d="M106.7,612.4 L536.78,292.9" fill="none" stroke="#ffd967" stroke-width="1.4" />
<path d="M106.7,612.4 L590.54,380.29" fill="none" stroke="#d0d0d0" stroke-width="1.4" />
<path d="M106.7,612.4 L617.42,446.13" fill="none" stroke="#f5b78d" stroke-width="1.4" />
<path d="M133,92.09 L133.45,83.23" fill="none" stroke="#b9d3ee" stroke-width="1.5" />
<path d="M158.76,99.35 L160.19,85.22" fill="none" stroke="#a9c8ea" stroke-width="1.5" />
<path d="M185.59,97.33 L186.94,88.56" fill="none" stroke="#f8c9a8" stroke-width="1.5" />
<path d="M210.82,107.18 L213.68,93.27" fill="none" stroke="#f5b995" stroke-width="1.5" />
<path d="M238.19,107.98 L240.43,99.39" fill="none" stroke="#e2e2e2" stroke-width="1.5" />
<path d="M262.87,120.51 L267.17,106.97" fill="none" stroke="#dadada" stroke-width="1.5" />
<path d="M290.78,124.39 L293.92,116.07" fill="none" stroke="#fbd777" stroke-width="1.5" />
<path d="M314.93,139.81 L320.66,126.8" fill="none" stroke="#f9d46c" stroke-width="1.5" />
<path d="M343.38,147.17 L347.41,139.24" fill="none" stroke="#8fabdc" stroke-width="1.5" />
<path d="M366.99,165.84 L374.16,153.55" fill="none" stroke="#a3bde6" stroke-width="1.5" />
<path d="M395.97,177.31 L400.9,169.9" fill="none" stroke="#b4d89b" stroke-width="1.5" />
<path d="M419.05,199.89 L427.65,188.53" fill="none" stroke="#8fbf72" stroke-width="1.5" />
<path d="M448.57,216.5 L454.39,209.76" fill="none" stroke="#6f90cc" stroke-width="1.5" />
<path d="M471.1,244.16 L481.14,234.02" fill="none" stroke="#5f80c2" stroke-width="1.5" />
<path d="M501.16,267.82 L507.88,261.95" fill="none" stroke="#d99a78" stroke-width="1.5" />
<path d="M523.16,303.02 L534.63,294.5" fill="none" stroke="#d7a93e" stroke-width="1.5" />
<path d="M553.76,337.97 L561.38,333.29" fill="none" stroke="#a8a8a8" stroke-width="1.5" />
<path d="M575.22,387.64 L588.12,381.45" fill="none" stroke="#8f8f8f" stroke-width="1.5" />
<path d="M585.32,396.4 L593.47,392.73" fill="none" stroke="#d4b04a" stroke-width="1.5" />
<path d="M590.58,408.23 L598.82,404.75" fill="none" stroke="#6f8ec8" stroke-width="1.5" />
<path d="M595.84,420.92 L604.17,417.65" fill="none" stroke="#8fb877" stroke-width="1.5" />
<path d="M601.09,434.66 L609.52,431.63" fill="none" stroke="#c2d8ef" stroke-width="1.5" />
<path d="M601.25,451.39 L614.87,446.96" fill="none" stroke="#c88a45" stroke-width="1.5" />
<path d="M611.61,466.53 L620.22,464.05" fill="none" stroke="#f8cfb3" stroke-width="1.5" />
<path d="M616.87,485.75 L625.56,483.59" fill="none" stroke="#e6e6e6" stroke-width="1.5" />
<path d="M622.13,508.73 L630.91,506.96" fill="none" stroke="#fbe4a0" stroke-width="1.5" />
<path d="M622.07,539.66 L636.26,537.66" fill="none" stroke="#7f94bd" stroke-width="1.5" />
<path d="M644.3,612.4 L644.28,607.75 L644.22,603.11 L644.12,598.46 L643.97,593.82 L643.79,589.17 L643.56,584.53 L643.3,579.89 L642.99,575.25 L642.64,570.62 L642.25,565.99 L641.82,561.36 L641.35,556.74 L640.84,552.12 L640.29,547.5 L639.7,542.89 L639.07,538.29 L638.39,533.69 L637.68,529.1 L636.93,524.51 L636.13,519.93 L635.3,515.36 L634.42,510.79 L633.51,506.24 L632.55,501.69 L631.56,497.15 L630.52,492.61 L629.45,488.09 L628.33,483.58 L627.18,479.07 L625.98,474.58 L624.75,470.1 L623.47,465.62 L622.16,461.16 L620.81,456.71 L619.42,452.27 L617.99,447.85 L616.52,443.44 L615.01,439.03 L613.46,434.65 L611.88,430.27 L610.25,425.91 L608.59,421.57 L606.89,417.24 L605.15,412.92 L603.38,408.62 L601.56,404.34 L599.71,400.07 L597.82,395.81 L595.9,391.58 L593.93,387.36 L591.93,383.15 L589.89,378.97 L587.82,374.8 L585.71,370.65 L583.56,366.52 L581.37,362.41 L579.15,358.31 L576.9,354.24 L574.6,350.18 L572.28,346.15 L569.91,342.14 L567.51,338.14 L565.08,334.17 L562.61,330.22 L560.11,326.29 L557.57,322.38 L555,318.49 L552.39,314.63 L549.75,310.79 L547.08,306.97 L544.37,303.18 L541.63,299.4 L538.85,295.66 L536.05,291.93 L533.21,288.23 L530.33,284.56 L527.43,280.91 L524.49,277.29 L521.53,273.69 L518.53,270.12 L515.49,266.57 L512.43,263.05 L509.34,259.55 L506.21,256.09 L503.06,252.65 L499.88,249.24 L496.66,245.85 L493.42,242.49 L490.14,239.17 L486.84,235.87 L483.51,232.59 L480.15,229.35 L476.76,226.14 L473.34,222.95 L469.9,219.8 L466.42,216.68 L462.92,213.58 L459.4,210.52 L455.84,207.48 L452.26,204.48 L448.66,201.51 L445.02,198.57 L441.36,195.66 L437.68,192.78 L433.97,189.94 L430.24,187.13 L426.48,184.35 L422.69,181.6 L418.89,178.88 L415.05,176.2 L411.2,173.55 L407.32,170.94 L403.42,168.36 L399.5,165.81 L395.55,163.29 L391.58,160.81 L387.6,158.37 L383.58,155.96 L379.55,153.58 L375.5,151.24 L371.43,148.94 L367.33,146.67 L363.22,144.43 L359.09,142.23 L354.94,140.07 L350.77,137.94 L346.58,135.85 L342.37,133.79 L338.14,131.77 L333.9,129.79 L329.64,127.85 L325.36,125.94 L321.07,124.07 L316.76,122.23 L312.43,120.43 L308.09,118.67 L303.73,116.95 L299.36,115.27 L294.97,113.62 L290.57,112.01 L286.15,110.44 L281.73,108.91 L277.28,107.42 L272.83,105.96 L268.36,104.55 L263.88,103.17 L259.39,101.83 L254.88,100.53 L250.37,99.27 L245.84,98.04 L241.3,96.86 L236.76,95.72 L232.2,94.61 L227.63,93.55 L223.06,92.52 L218.47,91.54 L213.88,90.59 L209.28,89.68 L204.67,88.82 L200.05,87.99 L195.43,87.2 L190.8,86.46 L186.16,85.75 L181.52,85.08 L176.87,84.46 L172.22,83.87 L167.56,83.32 L162.89,82.82 L158.23,82.35 L153.55,81.93 L148.88,81.54 L144.2,81.2 L139.52,80.89 L134.84,80.63 L130.15,80.41 L125.46,80.22 L120.77,80.08 L116.08,79.98 L111.39,79.92 L106.7,79.9" fill="none" stroke="#7aa9bb" stroke-width="1.7" />
<line x1="106.7" y1="43.8" x2="106.7" y2="612.4" stroke="#111" stroke-width="1.9"/>
<line x1="106.7" y1="79.9" x2="106.7" y2="96.76" stroke="#3b5a2a" stroke-width="1.9"/>
<line x1="105.8" y1="612.4" x2="644.3" y2="612.4" stroke="#34537c" stroke-width="1.6"/>
<line x1="644.3" y1="612.4" x2="680.5" y2="612.4" stroke="#111" stroke-width="1.5"/>
<rect x="162.3" y="554.9" width="14" height="13.2" fill="#fff" stroke="#cf5f12" stroke-width="3.2"/>
<path d="M239.5,550.2 L246.3,562.9 L232.7,562.9 Z" fill="#fff" stroke="#808080" stroke-width="2.6"/>
<path d="M299.9,558.6 L311.9,570.6 M311.9,558.6 L299.9,570.6" stroke="#d2a10b" stroke-width="3"/>
<path d="M473.7,606.5 L486.1,618.5 M486.1,606.5 L473.7,618.5 M479.9,606 L479.9,619" stroke="#3a61b2" stroke-width="3.4"/>
<text class="cl" text-anchor="middle" transform="translate(107.2,58.4) rotate(-90)" dy="0.34em">0.0</text>
<text class="cl" text-anchor="middle" transform="translate(164,62.2) rotate(-84.26)" dy="0.34em">0.1</text>
<text class="cl" text-anchor="middle" transform="translate(220.5,69.8) rotate(-78.46)" dy="0.34em">0.2</text>
<text class="cl" text-anchor="middle" transform="translate(274.8,84.8) rotate(-72.54)" dy="0.34em">0.3</text>
<text class="cl" text-anchor="middle" transform="translate(331.9,104.7) rotate(-66.42)" dy="0.34em">0.4</text>
<text class="cl" text-anchor="middle" transform="translate(387.1,132.6) rotate(-60)" dy="0.34em">0.5</text>
<text class="cl" text-anchor="middle" transform="translate(444.2,170.4) rotate(-53.13)" dy="0.34em">0.6</text>
<text class="cl" text-anchor="middle" transform="translate(499.9,216.6) rotate(-45.57)" dy="0.34em">0.7</text>
<text class="cl" text-anchor="middle" transform="translate(555.8,282) rotate(-36.87)" dy="0.34em">0.8</text>
<text class="cl" text-anchor="middle" transform="translate(611,372.8) rotate(-25.84)" dy="0.34em">0.9</text>
<text class="cl" text-anchor="middle" transform="translate(639,439.5) rotate(-18.19)" dy="0.34em">0.95</text>
<text class="cl" text-anchor="middle" transform="translate(660.3,536) rotate(-8.11)" dy="0.34em">0.99</text>
<text class="cl" text-anchor="middle" transform="translate(666.5,613.2)" dy="0.34em">1.0</text>
<text class="cor" text-anchor="middle" transform="translate(565.9,189.8) rotate(45)" dy="0.30em">Correlation</text>
<text class="tk" text-anchor="end" transform="translate(85.3,87.3)">0.3</text>
<text class="tk" text-anchor="end" transform="translate(85.3,176.2)">0.25</text>
<text class="tk" text-anchor="end" transform="translate(85.3,265)">0.2</text>
<text class="tk" text-anchor="end" transform="translate(85.3,353.8)">0.15</text>
<text class="tk" text-anchor="end" transform="translate(85.3,442.5)">0.1</text>
<text class="tk" text-anchor="end" transform="translate(85.3,531.5)">0.05</text>
<text class="tk" text-anchor="end" transform="translate(85.3,620.2)">0</text>
<text class="tk" text-anchor="middle" transform="translate(106.5,647.6)">0</text>
<text class="tk" text-anchor="middle" transform="translate(286,647.6)">0.1</text>
<text class="tk" text-anchor="middle" transform="translate(465.7,647.6)">0.2</text>
<text class="tk" text-anchor="middle" transform="translate(644.5,647.6)">0.3</text>
<text class="dl" transform="translate(144.3,539.8)">SVR</text>
<text class="dl" transform="translate(226,530.7)">SVR-PSO</text>
<text class="dl" transform="translate(281.5,595)">SVR-HHO</text>
<text class="dl" transform="translate(444,591.7)">Actual</text>
<text class="ti" text-anchor="middle" transform="translate(363.5,27.6)">Calibration</text>
<text class="pl" transform="translate(14.8,37.2) scale(1.05,1)">(a)</text>
<text class="ax" text-anchor="middle" style="font-size:25.2px" transform="translate(394.2,682.9)">Standard Deviation (Normalized)</text>
<text class="ax" text-anchor="middle" style="font-size:24.3px" transform="translate(32.2,327.9) rotate(-90)">Standard Deviation (Normalized)</text>
<rect x="106.6" y="764.8" width="570.3" height="559.5" fill="url(#hatch)"/>
<line x1="106.6" y1="1236.95" x2="676.9" y2="1236.95" stroke="#d8d8d8" stroke-width="1.8"/>
<line x1="106.6" y1="1149.6" x2="676.9" y2="1149.6" stroke="#d8d8d8" stroke-width="1.8"/>
<line x1="106.6" y1="1062.25" x2="676.9" y2="1062.25" stroke="#d8d8d8" stroke-width="1.8"/>
<line x1="106.6" y1="974.9" x2="676.9" y2="974.9" stroke="#d8d8d8" stroke-width="1.8"/>
<line x1="106.6" y1="887.55" x2="676.9" y2="887.55" stroke="#d8d8d8" stroke-width="1.8"/>
<line x1="106.6" y1="800.2" x2="676.9" y2="800.2" stroke="#d8d8d8" stroke-width="1.8"/>
<line x1="284.6" y1="764.8" x2="284.6" y2="1324.3" stroke="#d8d8d8" stroke-width="1.8"/>
<line x1="462.6" y1="764.8" x2="462.6" y2="1324.3" stroke="#d8d8d8" stroke-width="1.8"/>
<line x1="640.6" y1="764.8" x2="640.6" y2="1324.3" stroke="#d8d8d8" stroke-width="1.8"/>
<path d="M565.48,1324.3 L565.48,1323.54 L565.47,1322.78 L565.45,1322.01 L565.43,1321.25 L565.4,1320.49 L565.36,1319.73 L565.32,1318.97 L565.27,1318.21 L565.21,1317.45 L565.15,1316.69 L565.07,1315.93 L565,1315.17 L564.91,1314.41 L564.82,1313.65 L564.72,1312.9 L564.62,1312.14 L564.51,1311.39 L564.39,1310.64 L564.26,1309.88 L564.13,1309.13 L563.99,1308.38 L563.85,1307.63 L563.7,1306.89 L563.54,1306.14 L563.37,1305.39 L563.2,1304.65 L563.02,1303.91 L562.84,1303.17 L562.65,1302.43 L562.45,1301.69 L562.25,1300.96 L562.04,1300.22 L561.82,1299.49 L561.6,1298.76 L561.36,1298.03 L561.13,1297.31 L560.88,1296.58 L560.64,1295.86 L560.38,1295.14 L560.12,1294.42 L559.85,1293.71 L559.57,1293 L559.29,1292.29 L559,1291.58 L558.71,1290.87 L558.41,1290.17 L558.1,1289.47 L557.79,1288.77 L557.47,1288.08 L557.15,1287.38 L556.81,1286.69 L556.48,1286.01 L556.13,1285.32 L555.78,1284.64 L555.43,1283.97 L555.07,1283.29 L554.7,1282.62 L554.33,1281.95 L553.95,1281.29 L553.56,1280.62 L553.17,1279.97 L552.77,1279.31 L552.37,1278.66 L551.96,1278.01 L551.55,1277.37 L551.13,1276.73 L550.7,1276.09 L550.27,1275.45 L549.83,1274.82 L549.39,1274.2 L548.94,1273.58 L548.49,1272.96 L548.03,1272.34 L547.56,1271.73 L547.09,1271.12 L546.62,1270.52 L546.14,1269.92 L545.65,1269.33 L545.16,1268.74 L544.66,1268.15 L544.16,1267.57 L543.65,1266.99 L543.14,1266.42 L542.62,1265.85 L542.1,1265.29 L541.57,1264.73 L541.04,1264.17 L540.51,1263.62 L539.96,1263.08 L539.42,1262.53 L538.86,1262 L538.31,1261.47 L537.75,1260.94 L537.18,1260.42 L536.61,1259.9 L536.04,1259.39 L535.46,1258.88 L534.87,1258.38 L534.28,1257.88 L533.69,1257.39 L533.09,1256.9 L532.49,1256.42 L531.89,1255.94 L531.28,1255.47 L530.66,1255 L530.05,1254.54 L529.42,1254.08 L528.8,1253.63 L528.17,1253.19 L527.53,1252.75 L526.89,1252.31 L526.25,1251.88 L525.61,1251.46 L524.96,1251.04 L524.3,1250.63 L523.65,1250.22 L522.99,1249.82 L522.32,1249.43 L521.65,1249.04 L520.98,1248.65 L520.31,1248.27 L519.63,1247.9 L518.95,1247.54 L518.27,1247.17 L517.58,1246.82 L516.89,1246.47 L516.2,1246.13 L515.5,1245.79 L514.8,1245.46 L514.1,1245.13 L513.39,1244.81 L512.68,1244.5 L511.97,1244.19 L511.26,1243.89 L510.54,1243.6 L509.82,1243.31 L509.1,1243.03 L508.38,1242.75 L507.65,1242.48 L506.92,1242.22 L506.19,1241.96 L505.46,1241.71 L504.72,1241.46 L503.99,1241.23 L503.25,1240.99 L502.51,1240.77 L501.76,1240.55 L501.02,1240.33 L500.27,1240.13 L499.52,1239.93 L498.77,1239.73 L498.02,1239.54 L497.26,1239.36 L496.5,1239.19 L495.75,1239.02 L494.99,1238.86 L494.23,1238.7 L493.47,1238.55 L492.7,1238.41 L491.94,1238.28 L491.17,1238.15 L490.41,1238.03 L489.64,1237.91 L488.87,1237.8 L488.1,1237.7 L487.33,1237.6 L486.56,1237.51 L485.79,1237.43 L485.01,1237.35 L484.24,1237.28 L483.47,1237.22 L482.69,1237.16 L481.92,1237.11 L481.14,1237.07 L480.37,1237.03 L479.59,1237 L478.81,1236.98 L478.04,1236.96 L477.26,1236.95 L476.48,1236.95 L475.71,1236.95 L474.93,1236.96 L474.15,1236.98 L473.38,1237 L472.6,1237.03 L471.83,1237.07 L471.05,1237.11 L470.28,1237.16 L469.5,1237.22 L468.73,1237.28 L467.95,1237.35 L467.18,1237.43 L466.41,1237.51 L465.64,1237.6 L464.87,1237.7 L464.1,1237.8 L463.33,1237.91 L462.56,1238.03 L461.79,1238.15 L461.03,1238.28 L460.27,1238.41 L459.5,1238.55 L458.74,1238.7 L457.98,1238.86 L457.22,1239.02 L456.46,1239.19 L455.71,1239.36 L454.95,1239.54 L454.2,1239.73 L453.45,1239.93 L452.7,1240.13 L451.95,1240.33 L451.21,1240.55 L450.46,1240.77 L449.72,1240.99 L448.98,1241.23 L448.24,1241.46 L447.51,1241.71 L446.78,1241.96 L446.04,1242.22 L445.32,1242.48 L444.59,1242.75 L443.87,1243.03 L443.14,1243.31 L442.43,1243.6 L441.71,1243.89 L441,1244.19 L440.28,1244.5 L439.58,1244.81 L438.87,1245.13 L438.17,1245.46 L437.47,1245.79 L436.77,1246.13 L436.08,1246.47 L435.39,1246.82 L434.7,1247.17 L434.02,1247.54 L433.34,1247.9 L432.66,1248.27 L431.98,1248.65 L431.31,1249.04 L430.65,1249.43 L429.98,1249.82 L429.32,1250.22 L428.66,1250.63 L428.01,1251.04 L427.36,1251.46 L426.72,1251.88 L426.07,1252.31 L425.44,1252.75 L424.8,1253.19 L424.17,1253.63 L423.54,1254.08 L422.92,1254.54 L422.3,1255 L421.69,1255.47 L421.08,1255.94 L420.47,1256.42 L419.87,1256.9 L419.28,1257.39 L418.68,1257.88 L418.09,1258.38 L417.51,1258.88 L416.93,1259.39 L416.36,1259.9 L415.79,1260.42 L415.22,1260.94 L414.66,1261.47 L414.1,1262 L413.55,1262.53 L413,1263.08 L412.46,1263.62 L411.93,1264.17 L411.39,1264.73 L410.87,1265.29 L410.34,1265.85 L409.83,1266.42 L409.31,1266.99 L408.81,1267.57 L408.31,1268.15 L407.81,1268.74 L407.32,1269.33 L406.83,1269.92 L406.35,1270.52 L405.88,1271.12 L405.41,1271.73 L404.94,1272.34 L404.48,1272.96 L404.03,1273.58 L403.58,1274.2 L403.14,1274.82 L402.7,1275.45 L402.27,1276.09 L401.84,1276.73 L401.42,1277.37 L401.01,1278.01 L400.6,1278.66 L400.2,1279.31 L399.8,1279.97 L399.41,1280.62 L399.02,1281.29 L398.64,1281.95 L398.27,1282.62 L397.9,1283.29 L397.54,1283.97 L397.18,1284.64 L396.83,1285.32 L396.49,1286.01 L396.15,1286.69 L395.82,1287.38 L395.5,1288.08 L395.18,1288.77 L394.87,1289.47 L394.56,1290.17 L394.26,1290.87 L393.96,1291.58 L393.68,1292.29 L393.4,1293 L393.12,1293.71 L392.85,1294.42 L392.59,1295.14 L392.33,1295.86 L392.08,1296.58 L391.84,1297.31 L391.6,1298.03 L391.37,1298.76 L391.15,1299.49 L390.93,1300.22 L390.72,1300.96 L390.52,1301.69 L390.32,1302.43 L390.13,1303.17 L389.94,1303.91 L389.77,1304.65 L389.59,1305.39 L389.43,1306.14 L389.27,1306.89 L389.12,1307.63 L388.97,1308.38 L388.84,1309.13 L388.7,1309.88 L388.58,1310.64 L388.46,1311.39 L388.35,1312.14 L388.25,1312.9 L388.15,1313.65 L388.06,1314.41 L387.97,1315.17 L387.89,1315.93 L387.82,1316.69 L387.76,1317.45 L387.7,1318.21 L387.65,1318.97 L387.61,1319.73 L387.57,1320.49 L387.54,1321.25 L387.51,1322.01 L387.5,1322.78 L387.49,1323.54 L387.48,1324.3" fill="none" stroke="#f5bb93" stroke-width="1.3" />
<path d="M633.65,1242.28 L632.91,1240.94 L632.17,1239.6 L631.41,1238.27 L630.64,1236.95 L629.85,1235.63 L629.06,1234.32 L628.25,1233.02 L627.44,1231.72 L626.61,1230.43 L625.77,1229.15 L624.92,1227.88 L624.05,1226.61 L623.18,1225.35 L622.29,1224.1 L621.4,1222.85 L620.49,1221.61 L619.57,1220.38 L618.64,1219.16 L617.7,1217.95 L616.75,1216.74 L615.79,1215.55 L614.82,1214.36 L613.83,1213.18 L612.84,1212.01 L611.84,1210.84 L610.82,1209.69 L609.8,1208.54 L608.76,1207.4 L607.72,1206.27 L606.66,1205.15 L605.6,1204.04 L604.53,1202.94 L603.44,1201.85 L602.35,1200.77 L601.25,1199.7 L600.13,1198.63 L599.01,1197.58 L597.88,1196.53 L596.74,1195.5 L595.59,1194.47 L594.43,1193.46 L593.26,1192.45 L592.09,1191.46 L590.9,1190.47 L589.71,1189.5 L588.5,1188.53 L587.29,1187.58 L586.07,1186.63 L584.84,1185.7 L583.61,1184.78 L582.36,1183.87 L581.11,1182.96 L579.85,1182.07 L578.58,1181.19 L577.3,1180.33 L576.02,1179.47 L574.73,1178.62 L573.43,1177.78 L572.12,1176.96 L570.81,1176.15 L569.49,1175.34 L568.16,1174.55 L566.83,1173.77 L565.48,1173.01 L564.14,1172.25 L562.78,1171.5 L561.42,1170.77 L560.05,1170.05 L558.68,1169.34 L557.29,1168.64 L555.91,1167.95 L554.51,1167.28 L553.11,1166.62 L551.71,1165.97 L550.3,1165.33 L548.88,1164.7 L547.46,1164.09 L546.03,1163.49 L544.6,1162.9 L543.16,1162.32 L541.72,1161.76 L540.27,1161.2 L538.82,1160.66 L537.36,1160.14 L535.9,1159.62 L534.44,1159.12 L532.96,1158.63 L531.49,1158.15 L530.01,1157.69 L528.53,1157.23 L527.04,1156.79 L525.55,1156.37 L524.05,1155.95 L522.55,1155.55 L521.05,1155.16 L519.55,1154.79 L518.04,1154.43 L516.53,1154.08 L515.01,1153.74 L513.49,1153.42 L511.97,1153.11 L510.45,1152.81 L508.92,1152.53 L507.39,1152.25 L505.86,1152 L504.33,1151.75 L502.79,1151.52 L501.26,1151.3 L499.72,1151.09 L498.18,1150.9 L496.63,1150.72 L495.09,1150.56 L493.54,1150.4 L492,1150.26 L490.45,1150.14 L488.9,1150.03 L487.35,1149.93 L485.8,1149.84 L484.25,1149.77 L482.7,1149.71 L481.14,1149.66 L479.59,1149.63 L478.04,1149.61 L476.48,1149.6 L474.93,1149.61 L473.38,1149.63 L471.82,1149.66 L470.27,1149.71 L468.72,1149.77 L467.17,1149.84 L465.62,1149.93 L464.07,1150.03 L462.52,1150.14 L460.97,1150.26 L459.42,1150.4 L457.88,1150.56 L456.33,1150.72 L454.79,1150.9 L453.25,1151.09 L451.71,1151.3 L450.17,1151.52 L448.64,1151.75 L447.11,1152 L445.57,1152.25 L444.05,1152.53 L442.52,1152.81 L441,1153.11 L439.48,1153.42 L437.96,1153.74 L436.44,1154.08 L434.93,1154.43 L433.42,1154.79 L431.92,1155.16 L430.41,1155.55 L428.92,1155.95 L427.42,1156.37 L425.93,1156.79 L424.44,1157.23 L422.96,1157.69 L421.48,1158.15 L420,1158.63 L418.53,1159.12 L417.07,1159.62 L415.6,1160.14 L414.15,1160.66 L412.69,1161.2 L411.25,1161.76 L409.8,1162.32 L408.37,1162.9 L406.93,1163.49 L405.51,1164.09 L404.08,1164.7 L402.67,1165.33 L401.26,1165.97 L399.85,1166.62 L398.45,1167.28 L397.06,1167.95 L395.67,1168.64 L394.29,1169.34 L392.92,1170.05 L391.55,1170.77 L390.19,1171.5 L388.83,1172.25 L387.48,1173.01 L386.14,1173.77 L384.81,1174.55 L383.48,1175.34 L382.16,1176.15 L380.84,1176.96 L379.54,1177.78 L378.24,1178.62 L376.95,1179.47 L375.66,1180.33 L374.39,1181.19 L373.12,1182.07 L371.86,1182.96 L370.61,1183.87 L369.36,1184.78 L368.12,1185.7 L366.9,1186.63 L365.68,1187.58 L364.46,1188.53 L363.26,1189.5 L362.07,1190.47 L360.88,1191.46 L359.71,1192.45 L358.54,1193.46 L357.38,1194.47 L356.23,1195.5 L355.09,1196.53 L353.96,1197.58 L352.83,1198.63 L351.72,1199.7 L350.62,1200.77 L349.53,1201.85 L348.44,1202.94 L347.37,1204.04 L346.3,1205.15 L345.25,1206.27 L344.2,1207.4 L343.17,1208.54 L342.15,1209.69 L341.13,1210.84 L340.13,1212.01 L339.13,1213.18 L338.15,1214.36 L337.18,1215.55 L336.22,1216.74 L335.27,1217.95 L334.33,1219.16 L333.4,1220.38 L332.48,1221.61 L331.57,1222.85 L330.67,1224.1 L329.79,1225.35 L328.92,1226.61 L328.05,1227.88 L327.2,1229.15 L326.36,1230.43 L325.53,1231.72 L324.71,1233.02 L323.91,1234.32 L323.11,1235.63 L322.33,1236.95 L321.56,1238.27 L320.8,1239.6 L320.05,1240.94 L319.32,1242.28 L318.6,1243.63 L317.88,1244.99 L317.19,1246.35 L316.5,1247.72 L315.82,1249.09 L315.16,1250.47 L314.51,1251.85 L313.87,1253.24 L313.25,1254.64 L312.63,1256.04 L312.03,1257.45 L311.45,1258.86 L310.87,1260.27 L310.31,1261.69 L309.76,1263.12 L309.22,1264.55 L308.69,1265.98 L308.18,1267.42 L307.68,1268.87 L307.2,1270.31 L306.72,1271.77 L306.26,1273.22 L305.81,1274.68 L305.38,1276.15 L304.96,1277.61 L304.55,1279.08 L304.15,1280.56 L303.77,1282.04 L303.4,1283.52 L303.05,1285 L302.7,1286.49 L302.37,1287.98 L302.06,1289.47 L301.75,1290.97 L301.46,1292.46 L301.19,1293.96 L300.93,1295.47 L300.68,1296.97 L300.44,1298.48 L300.22,1299.99 L300.01,1301.5 L299.81,1303.01 L299.63,1304.52 L299.46,1306.04 L299.3,1307.56 L299.16,1309.07 L299.03,1310.59 L298.92,1312.11 L298.82,1313.63 L298.73,1315.16 L298.65,1316.68 L298.59,1318.2 L298.54,1319.73 L298.51,1321.25 L298.49,1322.78 L298.48,1324.3" fill="none" stroke="#d8d8d8" stroke-width="1.3" />
<path d="M578.66,1082.2 L576.5,1081.33 L574.34,1080.48 L572.17,1079.66 L569.99,1078.85 L567.8,1078.05 L565.61,1077.28 L563.41,1076.53 L561.2,1075.79 L558.99,1075.08 L556.77,1074.38 L554.55,1073.7 L552.32,1073.04 L550.08,1072.4 L547.84,1071.78 L545.59,1071.18 L543.34,1070.6 L541.08,1070.03 L538.81,1069.49 L536.55,1068.97 L534.27,1068.46 L532,1067.98 L529.72,1067.51 L527.43,1067.06 L525.14,1066.64 L522.85,1066.23 L520.55,1065.84 L518.25,1065.48 L515.95,1065.13 L513.64,1064.8 L511.33,1064.49 L509.02,1064.2 L506.71,1063.93 L504.39,1063.69 L502.07,1063.46 L499.75,1063.25 L497.43,1063.06 L495.11,1062.89 L492.78,1062.74 L490.46,1062.61 L488.13,1062.5 L485.8,1062.41 L483.47,1062.34 L481.14,1062.29 L478.81,1062.26 L476.48,1062.25 L474.15,1062.26 L471.82,1062.29 L469.49,1062.34 L467.17,1062.41 L464.84,1062.5 L462.51,1062.61 L460.18,1062.74 L457.86,1062.89 L455.54,1063.06 L453.21,1063.25 L450.89,1063.46 L448.57,1063.69 L446.26,1063.93 L443.94,1064.2 L441.63,1064.49 L439.32,1064.8 L437.02,1065.13 L434.72,1065.48 L432.42,1065.84 L430.12,1066.23 L427.83,1066.64 L425.54,1067.06 L423.25,1067.51 L420.97,1067.98 L418.69,1068.46 L416.42,1068.97 L414.15,1069.49 L411.89,1070.03 L409.63,1070.6 L407.38,1071.18 L405.13,1071.78 L402.89,1072.4 L400.65,1073.04 L398.42,1073.7 L396.2,1074.38 L393.98,1075.08 L391.76,1075.79 L389.56,1076.53 L387.36,1077.28 L385.16,1078.05 L382.98,1078.85 L380.8,1079.66 L378.63,1080.48 L376.46,1081.33 L374.31,1082.2 L372.16,1083.08 L370.02,1083.98 L367.89,1084.91 L365.76,1085.84 L363.64,1086.8 L361.54,1087.78 L359.44,1088.77 L357.35,1089.78 L355.27,1090.81 L353.2,1091.86 L351.14,1092.92 L349.08,1094.01 L347.04,1095.11 L345.01,1096.22 L342.98,1097.36 L340.97,1098.51 L338.97,1099.68 L336.98,1100.87 L335,1102.07 L333.03,1103.29 L331.07,1104.53 L329.12,1105.78 L327.18,1107.05 L325.25,1108.34 L323.34,1109.64 L321.44,1110.96 L319.55,1112.3 L317.67,1113.65 L315.8,1115.02 L313.94,1116.4 L312.1,1117.8 L310.27,1119.22 L308.46,1120.65 L306.65,1122.1 L304.86,1123.56 L303.08,1125.04 L301.32,1126.53 L299.56,1128.04 L297.83,1129.56 L296.1,1131.1 L294.39,1132.65 L292.69,1134.22 L291.01,1135.8 L289.34,1137.39 L287.69,1139 L286.05,1140.63 L284.42,1142.26 L282.81,1143.92 L281.21,1145.58 L279.63,1147.26 L278.06,1148.95 L276.51,1150.66 L274.98,1152.38 L273.46,1154.11 L271.95,1155.86 L270.46,1157.62 L268.99,1159.39 L267.53,1161.17 L266.09,1162.97 L264.66,1164.77 L263.25,1166.59 L261.85,1168.43 L260.48,1170.27 L259.12,1172.13 L257.77,1173.99 L256.44,1175.87 L255.13,1177.76 L253.84,1179.66 L252.56,1181.58 L251.3,1183.5 L250.06,1185.43 L248.83,1187.38 L247.62,1189.33 L246.43,1191.3 L245.26,1193.28 L244.1,1195.26 L242.96,1197.26 L241.84,1199.26 L240.74,1201.27 L239.65,1203.3 L238.59,1205.33 L237.54,1207.37 L236.51,1209.42 L235.49,1211.48 L234.5,1213.55 L233.52,1215.63 L232.57,1217.71 L231.63,1219.81 L230.71,1221.91 L229.81,1224.02 L228.93,1226.13 L228.06,1228.26 L227.22,1230.39 L226.39,1232.53 L225.59,1234.67 L224.8,1236.83 L224.03,1238.98 L223.28,1241.15 L222.55,1243.32 L221.84,1245.5 L221.15,1247.68 L220.48,1249.87 L219.83,1252.07 L219.19,1254.27 L218.58,1256.48 L217.99,1258.69 L217.42,1260.9 L216.86,1263.13 L216.33,1265.35 L215.81,1267.58 L215.32,1269.82 L214.84,1272.06 L214.39,1274.3 L213.95,1276.55 L213.54,1278.8 L213.15,1281.05 L212.77,1283.31 L212.42,1285.57 L212.08,1287.83 L211.77,1290.1 L211.47,1292.36 L211.2,1294.64 L210.95,1296.91 L210.71,1299.18 L210.5,1301.46 L210.31,1303.74 L210.13,1306.02 L209.98,1308.3 L209.85,1310.59 L209.74,1312.87 L209.65,1315.15 L209.58,1317.44 L209.52,1319.73 L209.49,1322.01 L209.48,1324.3" fill="none" stroke="#fdd978" stroke-width="1.3" />
<path d="M504.42,975.98 L501.32,975.75 L498.22,975.55 L495.12,975.38 L492.01,975.23 L488.91,975.11 L485.8,975.02 L482.7,974.95 L479.59,974.91 L476.48,974.9 L473.38,974.91 L470.27,974.95 L467.17,975.02 L464.06,975.11 L460.96,975.23 L457.85,975.38 L454.75,975.55 L451.65,975.75 L448.55,975.98 L445.46,976.23 L442.36,976.51 L439.27,976.81 L436.18,977.15 L433.1,977.5 L430.02,977.89 L426.94,978.3 L423.86,978.74 L420.79,979.2 L417.73,979.69 L414.67,980.21 L411.61,980.75 L408.56,981.32 L405.51,981.91 L402.47,982.54 L399.43,983.18 L396.4,983.86 L393.38,984.55 L390.36,985.28 L387.35,986.03 L384.34,986.81 L381.35,987.61 L378.36,988.44 L375.37,989.29 L372.4,990.17 L369.43,991.07 L366.47,992 L363.52,992.96 L360.58,993.94 L357.65,994.94 L354.72,995.97 L351.81,997.03 L348.91,998.11 L346.01,999.21 L343.12,1000.34 L340.25,1001.5 L337.38,1002.68 L334.53,1003.88 L331.69,1005.11 L328.85,1006.36 L326.03,1007.64 L323.22,1008.94 L320.42,1010.26 L317.64,1011.61 L314.86,1012.98 L312.1,1014.38 L309.35,1015.8 L306.62,1017.24 L303.89,1018.71 L301.18,1020.2 L298.48,1021.71 L295.8,1023.25 L293.13,1024.81 L290.47,1026.39 L287.83,1027.99 L285.21,1029.62 L282.59,1031.27 L279.99,1032.94 L277.41,1034.63 L274.84,1036.35 L272.29,1038.09 L269.75,1039.85 L267.23,1041.63 L264.73,1043.43 L262.24,1045.26 L259.76,1047.1 L257.31,1048.97 L254.87,1050.86 L252.45,1052.77 L250.04,1054.69 L247.65,1056.64 L245.28,1058.61 L242.93,1060.6 L240.59,1062.61 L238.27,1064.65 L235.97,1066.7 L233.69,1068.77 L231.43,1070.85 L229.19,1072.96 L226.96,1075.09 L224.75,1077.24 L222.57,1079.4 L220.4,1081.59 L218.25,1083.79 L216.12,1086.01 L214.01,1088.25 L211.92,1090.51 L209.86,1092.78 L207.81,1095.07 L205.78,1097.38 L203.77,1099.71 L201.79,1102.05 L199.82,1104.42 L197.88,1106.79 L195.95,1109.19 L194.05,1111.6 L192.17,1114.03 L190.31,1116.47 L188.47,1118.93 L186.66,1121.4 L184.87,1123.89 L183.1,1126.4 L181.35,1128.92 L179.62,1131.45 L177.92,1134 L176.24,1136.57 L174.58,1139.15 L172.94,1141.74 L171.33,1144.35 L169.74,1146.97 L168.18,1149.6 L166.64,1152.25 L165.12,1154.91 L163.63,1157.58 L162.15,1160.27 L160.71,1162.97 L159.29,1165.68 L157.89,1168.4 L156.51,1171.13 L155.16,1173.88 L153.84,1176.64 L152.54,1179.41 L151.26,1182.19 L150.01,1184.98 L148.78,1187.78 L147.58,1190.59 L146.41,1193.41 L145.26,1196.24 L144.13,1199.09 L143.03,1201.94 L141.95,1204.8 L140.9,1207.67 L139.88,1210.55 L138.88,1213.43 L137.91,1216.33 L136.96,1219.23 L136.04,1222.15 L135.14,1225.07 L134.27,1227.99 L133.43,1230.93 L132.61,1233.87 L131.82,1236.82 L131.06,1239.77 L130.32,1242.73 L129.61,1245.7 L128.92,1248.68 L128.26,1251.66 L127.63,1254.64 L127.02,1257.63 L126.45,1260.63 L125.89,1263.63 L125.37,1266.63 L124.87,1269.64 L124.39,1272.66 L123.95,1275.67 L123.53,1278.69 L123.14,1281.72 L122.77,1284.75 L122.43,1287.78 L122.12,1290.81 L121.84,1293.85 L121.58,1296.89 L121.35,1299.93 L121.15,1302.97 L120.97,1306.01 L120.82,1309.06 L120.7,1312.11 L120.61,1315.15 L120.54,1318.2 L120.5,1321.25 L120.48,1324.3" fill="none" stroke="#a0bae5" stroke-width="1.3" />
<path d="M395.39,894.86 L391.57,895.57 L387.77,896.32 L383.96,897.09 L380.17,897.9 L376.38,898.74 L372.6,899.62 L368.83,900.52 L365.06,901.46 L361.31,902.43 L357.56,903.43 L353.83,904.47 L350.1,905.54 L346.38,906.63 L342.67,907.76 L338.97,908.93 L335.28,910.12 L331.61,911.34 L327.94,912.6 L324.29,913.89 L320.64,915.21 L317.01,916.56 L313.39,917.94 L309.78,919.35 L306.19,920.8 L302.61,922.27 L299.04,923.77 L295.49,925.31 L291.95,926.87 L288.42,928.47 L284.91,930.1 L281.41,931.75 L277.93,933.44 L274.46,935.15 L271.01,936.9 L267.57,938.67 L264.15,940.48 L260.74,942.31 L257.36,944.17 L253.98,946.06 L250.63,947.98 L247.29,949.93 L243.97,951.91 L240.67,953.91 L237.39,955.95 L234.12,958.01 L230.87,960.1 L227.64,962.22 L224.43,964.36 L221.24,966.54 L218.07,968.74 L214.92,970.96 L211.79,973.22 L208.68,975.5 L205.59,977.8 L202.51,980.14 L199.46,982.5 L196.44,984.88 L193.43,987.29 L190.44,989.73 L187.48,992.19 L184.54,994.68 L181.62,997.19 L178.72,999.73 L175.85,1002.29 L172.99,1004.88 L170.17,1007.49 L167.36,1010.13 L164.58,1012.79 L161.82,1015.47 L159.09,1018.18 L156.38,1020.91 L153.69,1023.66 L151.03,1026.44 L148.4,1029.24 L145.78,1032.06 L143.2,1034.9 L140.64,1037.77 L138.1,1040.65 L135.59,1043.56 L133.11,1046.49 L130.65,1049.44 L128.22,1052.42 L125.82,1055.41 L123.44,1058.42 L121.09,1061.46 L118.77,1064.51 L116.47,1067.58 L114.2,1070.68 L111.96,1073.79 L109.75,1076.92 L107.56,1080.07" fill="none" stroke="#b7d8a0" stroke-width="1.3" />
<path d="M276.44,838.36 L272.13,840.09 L267.83,841.86 L263.55,843.67 L259.29,845.51 L255.04,847.39 L250.81,849.3 L246.59,851.26 L242.39,853.24 L238.21,855.26 L234.05,857.32 L229.91,859.42 L225.79,861.55 L221.68,863.71 L217.6,865.91 L213.53,868.15 L209.48,870.42 L205.46,872.72 L201.45,875.06 L197.47,877.43 L193.51,879.84 L189.57,882.28 L185.65,884.75 L181.75,887.26 L177.87,889.8 L174.02,892.38 L170.19,894.98 L166.39,897.62 L162.61,900.29 L158.85,903 L155.11,905.74 L151.41,908.5 L147.72,911.3 L144.06,914.14 L140.43,917 L136.82,919.89 L133.24,922.82 L129.68,925.77 L126.15,928.76 L122.64,931.77 L119.17,934.82 L115.72,937.89 L112.3,941 L108.9,944.13" fill="none" stroke="#92b6e1" stroke-width="1.3" />
<path d="M195.6,1324.3 L195.6,1323.54 L195.59,1322.78 L195.57,1322.01 L195.55,1321.25 L195.52,1320.49 L195.48,1319.73 L195.43,1318.97 L195.38,1318.21 L195.33,1317.45 L195.26,1316.69 L195.19,1315.93 L195.11,1315.17 L195.03,1314.41 L194.94,1313.65 L194.84,1312.9 L194.73,1312.14 L194.62,1311.39 L194.5,1310.64 L194.38,1309.88 L194.25,1309.13 L194.11,1308.38 L193.96,1307.63 L193.81,1306.89 L193.66,1306.14 L193.49,1305.39 L193.32,1304.65 L193.14,1303.91 L192.96,1303.17 L192.77,1302.43 L192.57,1301.69 L192.36,1300.96 L192.15,1300.22 L191.93,1299.49 L191.71,1298.76 L191.48,1298.03 L191.24,1297.31 L191,1296.58 L190.75,1295.86 L190.5,1295.14 L190.23,1294.42 L189.96,1293.71 L189.69,1293 L189.41,1292.29 L189.12,1291.58 L188.83,1290.87 L188.52,1290.17 L188.22,1289.47 L187.91,1288.77 L187.59,1288.08 L187.26,1287.38 L186.93,1286.69 L186.59,1286.01 L186.25,1285.32 L185.9,1284.64 L185.54,1283.97 L185.18,1283.29 L184.81,1282.62 L184.44,1281.95 L184.06,1281.29 L183.68,1280.62 L183.28,1279.97 L182.89,1279.31 L182.48,1278.66 L182.08,1278.01 L181.66,1277.37 L181.24,1276.73 L180.82,1276.09 L180.38,1275.45 L179.95,1274.82 L179.5,1274.2 L179.06,1273.58 L178.6,1272.96 L178.14,1272.34 L177.68,1271.73 L177.21,1271.12 L176.73,1270.52 L176.25,1269.92 L175.77,1269.33 L175.27,1268.74 L174.78,1268.15 L174.28,1267.57 L173.77,1266.99 L173.26,1266.42 L172.74,1265.85 L172.22,1265.29 L171.69,1264.73 L171.16,1264.17 L170.62,1263.62 L170.08,1263.08 L169.53,1262.53 L168.98,1262 L168.42,1261.47 L167.86,1260.94 L167.3,1260.42 L166.73,1259.9 L166.15,1259.39 L165.57,1258.88 L164.99,1258.38 L164.4,1257.88 L163.81,1257.39 L163.21,1256.9 L162.61,1256.42 L162,1255.94 L161.39,1255.47 L160.78,1255 L160.16,1254.54 L159.54,1254.08 L158.91,1253.63 L158.28,1253.19 L157.65,1252.75 L157.01,1252.31 L156.37,1251.88 L155.72,1251.46 L155.07,1251.04 L154.42,1250.63 L153.76,1250.22 L153.1,1249.82 L152.44,1249.43 L151.77,1249.04 L151.1,1248.65 L150.43,1248.27 L149.75,1247.9 L149.07,1247.54 L148.38,1247.17 L147.7,1246.82 L147.01,1246.47 L146.31,1246.13 L145.62,1245.79 L144.92,1245.46 L144.21,1245.13 L143.51,1244.81 L142.8,1244.5 L142.09,1244.19 L141.38,1243.89 L140.66,1243.6 L139.94,1243.31 L139.22,1243.03 L138.49,1242.75 L137.77,1242.48 L137.04,1242.22 L136.31,1241.96 L135.58,1241.71 L134.84,1241.46 L134.1,1241.23 L133.36,1240.99 L132.62,1240.77 L131.88,1240.55 L131.13,1240.33 L130.38,1240.13 L129.63,1239.93 L128.88,1239.73 L128.13,1239.54 L127.38,1239.36 L126.62,1239.19 L125.86,1239.02 L125.1,1238.86 L124.34,1238.7 L123.58,1238.55 L122.82,1238.41 L122.05,1238.28 L121.29,1238.15 L120.52,1238.03 L119.76,1237.91 L118.99,1237.8 L118.22,1237.7 L117.45,1237.6 L116.68,1237.51 L115.9,1237.43 L115.13,1237.35 L114.36,1237.28 L113.58,1237.22 L112.81,1237.16 L112.03,1237.11 L111.26,1237.07 L110.48,1237.03 L109.71,1237 L108.93,1236.98 L108.15,1236.96 L107.38,1236.95 L106.6,1236.95" fill="none" stroke="#7191c2" stroke-width="1.3" />
<path d="M284.6,1324.3 L284.59,1322.78 L284.57,1321.25 L284.54,1319.73 L284.49,1318.2 L284.43,1316.68 L284.36,1315.16 L284.27,1313.63 L284.17,1312.11 L284.05,1310.59 L283.92,1309.07 L283.78,1307.56 L283.62,1306.04 L283.46,1304.52 L283.27,1303.01 L283.08,1301.5 L282.87,1299.99 L282.64,1298.48 L282.41,1296.97 L282.16,1295.47 L281.9,1293.96 L281.62,1292.46 L281.33,1290.97 L281.03,1289.47 L280.71,1287.98 L280.38,1286.49 L280.04,1285 L279.68,1283.52 L279.31,1282.04 L278.93,1280.56 L278.53,1279.08 L278.13,1277.61 L277.7,1276.15 L277.27,1274.68 L276.82,1273.22 L276.36,1271.77 L275.89,1270.31 L275.4,1268.87 L274.9,1267.42 L274.39,1265.98 L273.87,1264.55 L273.33,1263.12 L272.78,1261.69 L272.21,1260.27 L271.64,1258.86 L271.05,1257.45 L270.45,1256.04 L269.84,1254.64 L269.21,1253.24 L268.57,1251.85 L267.92,1250.47 L267.26,1249.09 L266.59,1247.72 L265.9,1246.35 L265.2,1244.99 L264.49,1243.63 L263.76,1242.28 L263.03,1240.94 L262.28,1239.6 L261.52,1238.27 L260.75,1236.95 L259.97,1235.63 L259.18,1234.32 L258.37,1233.02 L257.55,1231.72 L256.72,1230.43 L255.88,1229.15 L255.03,1227.88 L254.17,1226.61 L253.29,1225.35 L252.41,1224.1 L251.51,1222.85 L250.61,1221.61 L249.69,1220.38 L248.76,1219.16 L247.82,1217.95 L246.87,1216.74 L245.9,1215.55 L244.93,1214.36 L243.95,1213.18 L242.96,1212.01 L241.95,1210.84 L240.94,1209.69 L239.91,1208.54 L238.88,1207.4 L237.84,1206.27 L236.78,1205.15 L235.72,1204.04 L234.64,1202.94 L233.56,1201.85 L232.47,1200.77 L231.36,1199.7 L230.25,1198.63 L229.13,1197.58 L228,1196.53 L226.86,1195.5 L225.71,1194.47 L224.55,1193.46 L223.38,1192.45 L222.2,1191.46 L221.02,1190.47 L219.82,1189.5 L218.62,1188.53 L217.41,1187.58 L216.19,1186.63 L214.96,1185.7 L213.72,1184.78 L212.48,1183.87 L211.23,1182.96 L209.97,1182.07 L208.7,1181.19 L207.42,1180.33 L206.14,1179.47 L204.84,1178.62 L203.55,1177.78 L202.24,1176.96 L200.93,1176.15 L199.6,1175.34 L198.28,1174.55 L196.94,1173.77 L195.6,1173.01 L194.25,1172.25 L192.9,1171.5 L191.53,1170.77 L190.17,1170.05 L188.79,1169.34 L187.41,1168.64 L186.02,1167.95 L184.63,1167.28 L183.23,1166.62 L181.83,1165.97 L180.42,1165.33 L179,1164.7 L177.58,1164.09 L176.15,1163.49 L174.72,1162.9 L173.28,1162.32 L171.84,1161.76 L170.39,1161.2 L168.94,1160.66 L167.48,1160.14 L166.02,1159.62 L164.55,1159.12 L163.08,1158.63 L161.61,1158.15 L160.13,1157.69 L158.64,1157.23 L157.15,1156.79 L155.66,1156.37 L154.17,1155.95 L152.67,1155.55 L151.17,1155.16 L149.66,1154.79 L148.15,1154.43 L146.64,1154.08 L145.13,1153.74 L143.61,1153.42 L142.09,1153.11 L140.56,1152.81 L139.04,1152.53 L137.51,1152.25 L135.98,1152 L134.45,1151.75 L132.91,1151.52 L131.37,1151.3 L129.83,1151.09 L128.29,1150.9 L126.75,1150.72 L125.21,1150.56 L123.66,1150.4 L122.11,1150.26 L120.57,1150.14 L119.02,1150.03 L117.47,1149.93 L115.92,1149.84 L114.36,1149.77 L112.81,1149.71 L111.26,1149.66 L109.71,1149.63 L108.15,1149.61 L106.6,1149.6" fill="none" stroke="#c99272" stroke-width="1.3" />
<path d="M373.6,1324.3 L373.59,1322.01 L373.56,1319.73 L373.51,1317.44 L373.44,1315.15 L373.35,1312.87 L373.23,1310.59 L373.1,1308.3 L372.95,1306.02 L372.78,1303.74 L372.58,1301.46 L372.37,1299.18 L372.14,1296.91 L371.88,1294.64 L371.61,1292.36 L371.32,1290.1 L371,1287.83 L370.67,1285.57 L370.31,1283.31 L369.94,1281.05 L369.54,1278.8 L369.13,1276.55 L368.69,1274.3 L368.24,1272.06 L367.77,1269.82 L367.27,1267.58 L366.76,1265.35 L366.22,1263.13 L365.67,1260.9 L365.1,1258.69 L364.5,1256.48 L363.89,1254.27 L363.26,1252.07 L362.6,1249.87 L361.93,1247.68 L361.24,1245.5 L360.53,1243.32 L359.8,1241.15 L359.05,1238.98 L358.29,1236.83 L357.5,1234.67 L356.69,1232.53 L355.87,1230.39 L355.02,1228.26 L354.16,1226.13 L353.28,1224.02 L352.37,1221.91 L351.46,1219.81 L350.52,1217.71 L349.56,1215.63 L348.58,1213.55 L347.59,1211.48 L346.58,1209.42 L345.55,1207.37 L344.5,1205.33 L343.43,1203.3 L342.35,1201.27 L341.24,1199.26 L340.12,1197.26 L338.98,1195.26 L337.83,1193.28 L336.65,1191.3 L335.46,1189.33 L334.25,1187.38 L333.03,1185.43 L331.79,1183.5 L330.53,1181.58 L329.25,1179.66 L327.95,1177.76 L326.64,1175.87 L325.31,1173.99 L323.97,1172.13 L322.61,1170.27 L321.23,1168.43 L319.84,1166.59 L318.43,1164.77 L317,1162.97 L315.56,1161.17 L314.1,1159.39 L312.62,1157.62 L311.13,1155.86 L309.63,1154.11 L308.11,1152.38 L306.57,1150.66 L305.02,1148.95 L303.45,1147.26 L301.87,1145.58 L300.27,1143.92 L298.66,1142.26 L297.04,1140.63 L295.4,1139 L293.74,1137.39 L292.07,1135.8 L290.39,1134.22 L288.69,1132.65 L286.98,1131.1 L285.26,1129.56 L283.52,1128.04 L281.77,1126.53 L280,1125.04 L278.22,1123.56 L276.43,1122.1 L274.63,1120.65 L272.81,1119.22 L270.98,1117.8 L269.14,1116.4 L267.28,1115.02 L265.42,1113.65 L263.54,1112.3 L261.65,1110.96 L259.74,1109.64 L257.83,1108.34 L255.9,1107.05 L253.97,1105.78 L252.02,1104.53 L250.06,1103.29 L248.09,1102.07 L246.11,1100.87 L244.12,1099.68 L242.11,1098.51 L240.1,1097.36 L238.08,1096.22 L236.04,1095.11 L234,1094.01 L231.95,1092.92 L229.89,1091.86 L227.82,1090.81 L225.73,1089.78 L223.65,1088.77 L221.55,1087.78 L219.44,1086.8 L217.32,1085.84 L215.2,1084.91 L213.07,1083.98 L210.93,1083.08 L208.78,1082.2 L206.62,1081.33 L204.46,1080.48 L202.28,1079.66 L200.11,1078.85 L197.92,1078.05 L195.73,1077.28 L193.53,1076.53 L191.32,1075.79 L189.11,1075.08 L186.89,1074.38 L184.66,1073.7 L182.43,1073.04 L180.2,1072.4 L177.95,1071.78 L175.7,1071.18 L173.45,1070.6 L171.19,1070.03 L168.93,1069.49 L166.66,1068.97 L164.39,1068.46 L162.11,1067.98 L159.83,1067.51 L157.55,1067.06 L155.26,1066.64 L152.96,1066.23 L150.67,1065.84 L148.37,1065.48 L146.07,1065.13 L143.76,1064.8 L141.45,1064.49 L139.14,1064.2 L136.83,1063.93 L134.51,1063.69 L132.19,1063.46 L129.87,1063.25 L127.55,1063.06 L125.22,1062.89 L122.9,1062.74 L120.57,1062.61 L118.25,1062.5 L115.92,1062.41 L113.59,1062.34 L111.26,1062.29 L108.93,1062.26 L106.6,1062.25" fill="none" stroke="#a4a4a4" stroke-width="1.3" />
<path d="M462.6,1324.3 L462.59,1321.25 L462.55,1318.2 L462.48,1315.15 L462.38,1312.11 L462.26,1309.06 L462.11,1306.01 L461.94,1302.97 L461.73,1299.93 L461.5,1296.89 L461.25,1293.85 L460.96,1290.81 L460.65,1287.78 L460.31,1284.75 L459.95,1281.72 L459.55,1278.69 L459.14,1275.67 L458.69,1272.66 L458.22,1269.64 L457.72,1266.63 L457.19,1263.63 L456.64,1260.63 L456.06,1257.63 L455.45,1254.64 L454.82,1251.66 L454.16,1248.68 L453.48,1245.7 L452.76,1242.73 L452.03,1239.77 L451.26,1236.82 L450.47,1233.87 L449.65,1230.93 L448.81,1227.99 L447.94,1225.07 L447.04,1222.15 L446.12,1219.23 L445.18,1216.33 L444.2,1213.43 L443.2,1210.55 L442.18,1207.67 L441.13,1204.8 L440.06,1201.94 L438.95,1199.09 L437.83,1196.24 L436.68,1193.41 L435.5,1190.59 L434.3,1187.78 L433.07,1184.98 L431.82,1182.19 L430.55,1179.41 L429.25,1176.64 L427.92,1173.88 L426.57,1171.13 L425.2,1168.4 L423.8,1165.68 L422.38,1162.97 L420.93,1160.27 L419.46,1157.58 L417.96,1154.91 L416.45,1152.25 L414.91,1149.6 L413.34,1146.97 L411.75,1144.35 L410.14,1141.74 L408.51,1139.15 L406.85,1136.57 L405.17,1134 L403.46,1131.45 L401.74,1128.92 L399.99,1126.4 L398.22,1123.89 L396.43,1121.4 L394.61,1118.93 L392.77,1116.47 L390.91,1114.03 L389.03,1111.6 L387.13,1109.19 L385.21,1106.79 L383.26,1104.42 L381.3,1102.05 L379.31,1099.71 L377.3,1097.38 L375.28,1095.07 L373.23,1092.78 L371.16,1090.51 L369.07,1088.25 L366.96,1086.01 L364.83,1083.79 L362.68,1081.59 L360.52,1079.4 L358.33,1077.24 L356.12,1075.09 L353.9,1072.96 L351.65,1070.85 L349.39,1068.77 L347.11,1066.7 L344.81,1064.65 L342.49,1062.61 L340.16,1060.6 L337.8,1058.61 L335.43,1056.64 L333.04,1054.69 L330.64,1052.77 L328.22,1050.86 L325.78,1048.97 L323.32,1047.1 L320.85,1045.26 L318.36,1043.43 L315.85,1041.63 L313.33,1039.85 L310.79,1038.09 L308.24,1036.35 L305.67,1034.63 L303.09,1032.94 L300.49,1031.27 L297.88,1029.62 L295.25,1027.99 L292.61,1026.39 L289.95,1024.81 L287.28,1023.25 L284.6,1021.71 L281.9,1020.2 L279.19,1018.71 L276.47,1017.24 L273.73,1015.8 L270.98,1014.38 L268.22,1012.98 L265.45,1011.61 L262.66,1010.26 L259.86,1008.94 L257.05,1007.64 L254.23,1006.36 L251.4,1005.11 L248.55,1003.88 L245.7,1002.68 L242.84,1001.5 L239.96,1000.34 L237.07,999.21 L234.18,998.11 L231.27,997.03 L228.36,995.97 L225.44,994.94 L222.5,993.94 L219.56,992.96 L216.61,992 L213.65,991.07 L210.68,990.17 L207.71,989.29 L204.73,988.44 L201.74,987.61 L198.74,986.81 L195.74,986.03 L192.72,985.28 L189.71,984.55 L186.68,983.86 L183.65,983.18 L180.62,982.54 L177.57,981.91 L174.53,981.32 L171.48,980.75 L168.42,980.21 L165.36,979.69 L162.29,979.2 L159.22,978.74 L156.15,978.3 L153.07,977.89 L149.99,977.5 L146.9,977.15 L143.81,976.81 L140.72,976.51 L137.63,976.23 L134.53,975.98 L131.43,975.75 L128.33,975.55 L125.23,975.38 L122.13,975.23 L119.02,975.11 L115.92,975.02 L112.81,974.95 L109.71,974.91 L106.6,974.9" fill="none" stroke="#bca263" stroke-width="1.3" />
<path d="M475.95,1324.3 L475.94,1321.14 L475.89,1317.97 L475.82,1314.81 L475.73,1311.65 L475.6,1308.49 L475.44,1305.33 L475.26,1302.17 L475.05,1299.01 L474.81,1295.86 L474.54,1292.71 L474.25,1289.56 L473.93,1286.41 L473.58,1283.26 L473.2,1280.12 L472.79,1276.98 L472.36,1273.85 L471.89,1270.72 L471.4,1267.59 L470.88,1264.47 L470.34,1261.35 L469.77,1258.24 L469.16,1255.13 L468.54,1252.03 L467.88,1248.93 L467.19,1245.84 L466.48,1242.75 L465.74,1239.68 L464.98,1236.6 L464.19,1233.54 L463.36,1230.48 L462.52,1227.43 L461.64,1224.38 L460.74,1221.34 L459.81,1218.31 L458.86,1215.29 L457.87,1212.28 L456.86,1209.28 L455.83,1206.28 L454.76,1203.29 L453.68,1200.32 L452.56,1197.35 L451.42,1194.39 L450.25,1191.44 L449.06,1188.5 L447.83,1185.58 L446.59,1182.66 L445.32,1179.75 L444.02,1176.86 L442.69,1173.97 L441.34,1171.1 L439.97,1168.24 L438.57,1165.39 L437.14,1162.55 L435.69,1159.73 L434.22,1156.91 L432.72,1154.12 L431.19,1151.33 L429.64,1148.56 L428.07,1145.8 L426.47,1143.05 L424.84,1140.32 L423.19,1137.6 L421.52,1134.89 L419.83,1132.2 L418.11,1129.53 L416.36,1126.87 L414.6,1124.22 L412.81,1121.59 L410.99,1118.98 L409.15,1116.38 L407.29,1113.79 L405.41,1111.23 L403.5,1108.68 L401.58,1106.14 L399.63,1103.62 L397.65,1101.12 L395.66,1098.64 L393.64,1096.17 L391.6,1093.72 L389.54,1091.29 L387.46,1088.87 L385.35,1086.48 L383.23,1084.1 L381.08,1081.74 L378.91,1079.4 L376.73,1077.07 L374.52,1074.77 L372.29,1072.48 L370.04,1070.22 L367.77,1067.97 L365.48,1065.74 L363.17,1063.54 L360.84,1061.35 L358.5,1059.18 L356.13,1057.04 L353.74,1054.91 L351.34,1052.8 L348.92,1050.72 L346.47,1048.65 L344.01,1046.61 L341.54,1044.58 L339.04,1042.58 L336.53,1040.6 L333.99,1038.64 L331.45,1036.71 L328.88,1034.79 L326.3,1032.9 L323.7,1031.03 L321.08,1029.18 L318.45,1027.36 L315.8,1025.55 L313.14,1023.77 L310.46,1022.01 L307.76,1020.28 L305.05,1018.57 L302.33,1016.88 L299.58,1015.22 L296.83,1013.57 L294.06,1011.96 L291.28,1010.36 L288.48,1008.79 L285.66,1007.25 L282.84,1005.73 L280,1004.23 L277.15,1002.76 L274.28,1001.31 L271.4,999.88 L268.51,998.48 L265.61,997.11 L262.69,995.76 L259.77,994.44 L256.83,993.14 L253.88,991.86 L250.92,990.61 L247.94,989.39 L244.96,988.19 L241.97,987.02 L238.96,985.87 L235.95,984.75 L232.93,983.66 L229.89,982.59 L226.85,981.55 L223.8,980.53 L220.74,979.54 L217.67,978.58 L214.59,977.64 L211.5,976.73 L208.41,975.84 L205.3,974.98 L202.19,974.15 L199.08,973.34 L195.95,972.57 L192.82,971.81 L189.69,971.09 L186.54,970.39 L183.39,969.72 L180.24,969.07 L177.08,968.46 L173.91,967.87 L170.74,967.3 L167.56,966.77 L164.38,966.26 L161.19,965.78 L158,965.33 L154.81,964.9 L151.61,964.5 L148.41,964.13 L145.21,963.78 L142,963.47 L138.79,963.18 L135.58,962.91 L132.36,962.68 L129.15,962.47 L125.93,962.29 L122.71,962.14 L119.49,962.02 L116.27,961.92 L113.05,961.85 L109.82,961.81 L106.6,961.8" fill="none" stroke="#bdd5ef" stroke-width="1.3" />
<path d="M551.6,1324.3 L551.58,1320.49 L551.53,1316.68 L551.45,1312.87 L551.33,1309.06 L551.18,1305.25 L550.99,1301.44 L550.77,1297.64 L550.52,1293.83 L550.23,1290.03 L549.91,1286.23 L549.55,1282.44 L549.16,1278.65 L548.74,1274.86 L548.28,1271.07 L547.79,1267.29 L547.27,1263.52 L546.71,1259.74 L546.12,1255.98 L545.5,1252.22 L544.84,1248.46 L544.15,1244.71 L543.42,1240.96 L542.67,1237.23 L541.88,1233.49 L541.05,1229.77 L540.19,1226.05 L539.3,1222.34 L538.38,1218.64 L537.43,1214.95 L536.44,1211.26 L535.42,1207.58 L534.36,1203.92 L533.27,1200.26 L532.16,1196.61 L531,1192.97 L529.82,1189.34 L528.6,1185.72 L527.36,1182.11 L526.08,1178.51 L524.76,1174.92 L523.42,1171.35 L522.04,1167.78 L520.64,1164.23 L519.2,1160.69 L517.73,1157.16 L516.22,1153.65 L514.69,1150.15 L513.13,1146.66 L511.53,1143.18 L509.91,1139.72 L508.25,1136.27 L506.56,1132.84 L504.85,1129.42 L503.1,1126.02 L501.32,1122.63 L499.51,1119.26 L497.67,1115.9 L495.81,1112.56 L493.91,1109.23 L491.98,1105.92 L490.02,1102.63 L488.04,1099.36 L486.02,1096.1 L483.98,1092.86 L481.91,1089.63 L479.81,1086.43 L477.68,1083.24 L475.52,1080.07 L473.34,1076.92 L471.12,1073.79 L468.88,1070.68 L466.61,1067.58 L464.32,1064.51 L461.99,1061.46 L459.64,1058.42 L457.26,1055.41 L454.86,1052.42 L452.43,1049.44 L449.97,1046.49 L447.49,1043.56 L444.98,1040.65 L442.45,1037.77 L439.89,1034.9 L437.3,1032.06 L434.69,1029.24 L432.05,1026.44 L429.39,1023.66 L426.71,1020.91 L424,1018.18 L421.26,1015.47 L418.5,1012.79 L415.72,1010.13 L412.92,1007.49 L410.09,1004.88 L407.24,1002.29 L404.36,999.73 L401.47,997.19 L398.55,994.68 L395.6,992.19 L392.64,989.73 L389.65,987.29 L386.65,984.88 L383.62,982.5 L380.57,980.14 L377.5,977.8 L374.41,975.5 L371.3,973.22 L368.16,970.96 L365.01,968.74 L361.84,966.54 L358.65,964.36 L355.44,962.22 L352.21,960.1 L348.96,958.01 L345.7,955.95 L342.41,953.91 L339.11,951.91 L335.79,949.93 L332.45,947.98 L329.1,946.06 L325.73,944.17 L322.34,942.31 L318.94,940.48 L315.51,938.67 L312.08,936.9 L308.63,935.15 L305.16,933.44 L301.68,931.75 L298.18,930.1 L294.67,928.47 L291.14,926.87 L287.6,925.31 L284.04,923.77 L280.48,922.27 L276.89,920.8 L273.3,919.35 L269.69,917.94 L266.07,916.56 L262.44,915.21 L258.8,913.89 L255.14,912.6 L251.48,911.34 L247.8,910.12 L244.11,908.93 L240.41,907.76 L236.71,906.63 L232.99,905.54 L229.26,904.47 L225.52,903.43 L221.77,902.43 L218.02,901.46 L214.26,900.52 L210.48,899.62 L206.7,898.74 L202.92,897.9 L199.12,897.09 L195.32,896.32 L191.51,895.57 L187.69,894.86 L183.87,894.19 L180.05,893.54 L176.21,892.93 L172.38,892.35 L168.53,891.8 L164.68,891.29 L160.83,890.81 L156.98,890.36 L153.12,889.94 L149.25,889.56 L145.38,889.21 L141.51,888.9 L137.64,888.61 L133.77,888.36 L129.89,888.15 L126.01,887.97 L122.13,887.82 L118.25,887.7 L114.37,887.62 L110.48,887.57 L106.6,887.55" fill="none" stroke="#7282aa" stroke-width="1.3" />
<path d="M106.6,1324.3 L427,905.02" fill="none" stroke="#b2d59a" stroke-width="1.4" />
<path d="M106.6,1324.3 L480.4,950.02" fill="none" stroke="#8fabdc" stroke-width="1.4" />
<path d="M106.6,1324.3 L533.8,1009.84" fill="none" stroke="#ffd967" stroke-width="1.4" />
<path d="M106.6,1324.3 L587.2,1095.85" fill="none" stroke="#d0d0d0" stroke-width="1.4" />
<path d="M106.6,1324.3 L613.9,1160.65" fill="none" stroke="#f5b78d" stroke-width="1.4" />
<path d="M132.72,812.2 L133.17,803.47" fill="none" stroke="#b9d3ee" stroke-width="1.5" />
<path d="M158.31,819.34 L159.73,805.43" fill="none" stroke="#a9c8ea" stroke-width="1.5" />
<path d="M184.96,817.36 L186.3,808.72" fill="none" stroke="#f8c9a8" stroke-width="1.5" />
<path d="M210.02,827.05 L212.87,813.36" fill="none" stroke="#f5b995" stroke-width="1.5" />
<path d="M237.21,827.84 L239.43,819.38" fill="none" stroke="#e2e2e2" stroke-width="1.5" />
<path d="M261.73,840.17 L266,826.84" fill="none" stroke="#dadada" stroke-width="1.5" />
<path d="M289.45,843.99 L292.57,835.8" fill="none" stroke="#fbd777" stroke-width="1.5" />
<path d="M313.44,859.17 L319.13,846.36" fill="none" stroke="#f9d46c" stroke-width="1.5" />
<path d="M341.69,866.4 L345.7,858.6" fill="none" stroke="#8fabdc" stroke-width="1.5" />
<path d="M365.14,884.79 L372.26,872.69" fill="none" stroke="#a3bde6" stroke-width="1.5" />
<path d="M393.94,896.07 L398.83,888.78" fill="none" stroke="#b4d89b" stroke-width="1.5" />
<path d="M416.85,918.3 L425.4,907.12" fill="none" stroke="#8fbf72" stroke-width="1.5" />
<path d="M446.18,934.65 L451.96,928.01" fill="none" stroke="#6f90cc" stroke-width="1.5" />
<path d="M468.56,961.87 L478.53,951.89" fill="none" stroke="#5f80c2" stroke-width="1.5" />
<path d="M498.42,985.15 L505.1,979.37" fill="none" stroke="#d99a78" stroke-width="1.5" />
<path d="M520.27,1019.8 L531.66,1011.41" fill="none" stroke="#d7a93e" stroke-width="1.5" />
<path d="M550.67,1054.2 L558.23,1049.59" fill="none" stroke="#a8a8a8" stroke-width="1.5" />
<path d="M571.98,1103.08 L584.8,1096.99" fill="none" stroke="#8f8f8f" stroke-width="1.5" />
<path d="M582.01,1111.71 L590.11,1108.09" fill="none" stroke="#d4b04a" stroke-width="1.5" />
<path d="M587.24,1123.35 L595.42,1119.92" fill="none" stroke="#6f8ec8" stroke-width="1.5" />
<path d="M592.46,1135.84 L600.74,1132.63" fill="none" stroke="#8fb877" stroke-width="1.5" />
<path d="M597.68,1149.36 L606.05,1146.38" fill="none" stroke="#c2d8ef" stroke-width="1.5" />
<path d="M597.84,1165.83 L611.36,1161.47" fill="none" stroke="#c88a45" stroke-width="1.5" />
<path d="M608.13,1180.73 L616.68,1178.29" fill="none" stroke="#f8cfb3" stroke-width="1.5" />
<path d="M613.36,1199.65 L621.99,1197.53" fill="none" stroke="#e6e6e6" stroke-width="1.5" />
<path d="M618.58,1222.27 L627.3,1220.53" fill="none" stroke="#fbe4a0" stroke-width="1.5" />
<path d="M618.52,1252.71 L632.62,1250.74" fill="none" stroke="#7f94bd" stroke-width="1.5" />
<path d="M640.6,1324.3 L640.58,1319.73 L640.52,1315.15 L640.42,1310.58 L640.27,1306.01 L640.09,1301.44 L639.87,1296.87 L639.6,1292.3 L639.3,1287.74 L638.95,1283.18 L638.57,1278.62 L638.14,1274.07 L637.67,1269.52 L637.17,1264.97 L636.62,1260.43 L636.03,1255.89 L635.4,1251.36 L634.73,1246.83 L634.03,1242.31 L633.28,1237.8 L632.49,1233.29 L631.66,1228.79 L630.79,1224.3 L629.88,1219.81 L628.93,1215.33 L627.94,1210.86 L626.91,1206.4 L625.85,1201.95 L624.74,1197.51 L623.59,1193.08 L622.4,1188.65 L621.18,1184.24 L619.91,1179.84 L618.61,1175.45 L617.27,1171.07 L615.88,1166.7 L614.46,1162.34 L613,1158 L611.51,1153.67 L609.97,1149.35 L608.4,1145.05 L606.78,1140.76 L605.13,1136.48 L603.44,1132.22 L601.72,1127.97 L599.95,1123.74 L598.15,1119.52 L596.31,1115.32 L594.43,1111.13 L592.52,1106.96 L590.57,1102.81 L588.58,1098.67 L586.56,1094.55 L584.49,1090.45 L582.4,1086.36 L580.26,1082.3 L578.09,1078.25 L575.89,1074.22 L573.65,1070.21 L571.37,1066.22 L569.06,1062.25 L566.71,1058.3 L564.33,1054.37 L561.91,1050.46 L559.46,1046.57 L556.97,1042.7 L554.45,1038.85 L551.9,1035.03 L549.31,1031.23 L546.68,1027.45 L544.03,1023.69 L541.34,1019.95 L538.62,1016.24 L535.86,1012.55 L533.07,1008.89 L530.25,1005.25 L527.4,1001.63 L524.51,998.04 L521.6,994.47 L518.65,990.93 L515.67,987.42 L512.66,983.92 L509.61,980.46 L506.54,977.02 L503.44,973.61 L500.31,970.22 L497.14,966.86 L493.95,963.53 L490.73,960.23 L487.48,956.95 L484.2,953.71 L480.89,950.49 L477.55,947.29 L474.18,944.13 L470.79,941 L467.37,937.89 L463.92,934.82 L460.44,931.77 L456.94,928.76 L453.41,925.77 L449.85,922.82 L446.27,919.89 L442.66,917 L439.02,914.14 L435.36,911.3 L431.68,908.5 L427.97,905.74 L424.24,903 L420.48,900.29 L416.7,897.62 L412.89,894.98 L409.06,892.38 L405.21,889.8 L401.33,887.26 L397.44,884.75 L393.52,882.28 L389.58,879.84 L385.61,877.43 L381.63,875.06 L377.63,872.72 L373.6,870.42 L369.55,868.15 L365.49,865.91 L361.4,863.71 L357.3,861.55 L353.17,859.42 L349.03,857.32 L344.87,855.26 L340.69,853.24 L336.49,851.26 L332.28,849.3 L328.05,847.39 L323.8,845.51 L319.53,843.67 L315.25,841.86 L310.95,840.09 L306.64,838.36 L302.31,836.67 L297.97,835.01 L293.61,833.39 L289.24,831.81 L284.85,830.26 L280.45,828.75 L276.04,827.28 L271.62,825.85 L267.18,824.46 L262.73,823.1 L258.26,821.78 L253.79,820.5 L249.31,819.26 L244.81,818.06 L240.3,816.89 L235.79,815.77 L231.26,814.68 L226.72,813.63 L222.18,812.62 L217.62,811.65 L213.06,810.72 L208.49,809.83 L203.91,808.98 L199.33,808.16 L194.74,807.39 L190.14,806.65 L185.53,805.96 L180.92,805.3 L176.3,804.68 L171.68,804.11 L167.05,803.57 L162.42,803.07 L157.78,802.61 L153.14,802.19 L148.5,801.82 L143.85,801.48 L139.2,801.18 L134.55,800.92 L129.89,800.7 L125.24,800.52 L120.58,800.38 L115.92,800.28 L111.26,800.22 L106.6,800.2" fill="none" stroke="#7aa9bb" stroke-width="1.7" />
<line x1="106.6" y1="764.8" x2="106.6" y2="1324.3" stroke="#111" stroke-width="1.9"/>
<line x1="106.6" y1="800.2" x2="106.6" y2="816.8" stroke="#3b5a2a" stroke-width="1.9"/>
<line x1="105.7" y1="1324.3" x2="640.6" y2="1324.3" stroke="#34537c" stroke-width="1.6"/>
<line x1="640.6" y1="1324.3" x2="676.9" y2="1324.3" stroke="#111" stroke-width="1.5"/>
<rect x="150" y="1276.3" width="14" height="13.2" fill="#fff" stroke="#cf5f12" stroke-width="3.2"/>
<path d="M169.6,1300.7 L176.4,1313.4 L162.8,1313.4 Z" fill="#fff" stroke="#808080" stroke-width="2.6"/>
<path d="M171.2,1309.1 L183.2,1321.1 M183.2,1309.1 L171.2,1321.1" stroke="#d2a10b" stroke-width="3"/>
<path d="M541,1318.3 L553.4,1330.3 M553.4,1318.3 L541,1330.3 M547.2,1317.8 L547.2,1330.8" stroke="#3a61b2" stroke-width="3.4"/>
<text class="cl" text-anchor="middle" transform="translate(106.5,779) scale(1.065,1.0) rotate(-90)" dy="0.34em">0.0</text>
<text class="cl" text-anchor="middle" transform="translate(163.4,782.4) scale(1.065,1.0) rotate(-84.26)" dy="0.34em">0.1</text>
<text class="cl" text-anchor="middle" transform="translate(218.8,790.6) scale(1.065,1.0) rotate(-78.46)" dy="0.34em">0.2</text>
<text class="cl" text-anchor="middle" transform="translate(274.8,805.5) scale(1.065,1.0) rotate(-72.54)" dy="0.34em">0.3</text>
<text class="cl" text-anchor="middle" transform="translate(330.7,825.9) scale(1.065,1.0) rotate(-66.42)" dy="0.34em">0.4</text>
<text class="cl" text-anchor="middle" transform="translate(385.9,852) scale(1.065,1.0) rotate(-60)" dy="0.34em">0.5</text>
<text class="cl" text-anchor="middle" transform="translate(442.3,888.5) scale(1.065,1.0) rotate(-53.13)" dy="0.34em">0.6</text>
<text class="cl" text-anchor="middle" transform="translate(498.2,936.9) scale(1.065,1.0) rotate(-45.57)" dy="0.34em">0.7</text>
<text class="cl" text-anchor="middle" transform="translate(553.3,999) scale(1.065,1.0) rotate(-36.87)" dy="0.34em">0.8</text>
<text class="cl" text-anchor="middle" transform="translate(607.8,1088.5) scale(1.065,1.0) rotate(-25.84)" dy="0.34em">0.9</text>
<text class="cl" text-anchor="middle" transform="translate(635.7,1156.9) scale(1.065,1.0) rotate(-18.19)" dy="0.34em">0.95</text>
<text class="cl" text-anchor="middle" transform="translate(657.5,1250) scale(1.065,1.0) rotate(-8.11)" dy="0.34em">0.99</text>
<text class="cl" text-anchor="middle" transform="translate(663.9,1324.6) scale(1.065,1.0)" dy="0.34em">1.0</text>
<text class="cor" text-anchor="middle" transform="translate(577.2,918) scale(1.065,1.0) rotate(43)" dy="0.30em">Correlation</text>
<text class="tk" text-anchor="end" transform="translate(83.7,807.2) scale(1.065,1.0)">0.3</text>
<text class="tk" text-anchor="end" transform="translate(83.7,895.8) scale(1.065,1.0)">0.25</text>
<text class="tk" text-anchor="end" transform="translate(83.7,982) scale(1.065,1.0)">0.2</text>
<text class="tk" text-anchor="end" transform="translate(83.7,1069.4) scale(1.065,1.0)">0.15</text>
<text class="tk" text-anchor="end" transform="translate(83.7,1156.8) scale(1.065,1.0)">0.1</text>
<text class="tk" text-anchor="end" transform="translate(83.7,1244.2) scale(1.065,1.0)">0.05</text>
<text class="tk" text-anchor="end" transform="translate(83.7,1331.5) scale(1.065,1.0)">0</text>
<text class="tk" text-anchor="middle" transform="translate(106.5,1359) scale(1.065,1.0)">0</text>
<text class="tk" text-anchor="middle" transform="translate(284.5,1359) scale(1.065,1.0)">0.1</text>
<text class="tk" text-anchor="middle" transform="translate(462.8,1359) scale(1.065,1.0)">0.2</text>
<text class="tk" text-anchor="middle" transform="translate(642,1359) scale(1.065,1.0)">0.3</text>
<text class="dl" transform="translate(131.3,1261.2) scale(1.065,1.0)">SVR</text>
<text class="dl" transform="translate(211.2,1269.5) scale(1.065,1.0)">SVR-PSO</text>
<text class="dl" transform="translate(215.1,1317.8) scale(1.065,1.0)">SVR-HHO</text>
<text class="dl" transform="translate(509,1301.8) scale(1.065,1.0)">Actual</text>
<text class="ti" text-anchor="middle" transform="translate(414.5,748.7) scale(1.07,1)">Verification</text>
<text class="pl" transform="translate(14.8,763)">(b)</text>
<text class="ax" text-anchor="middle" style="font-size:25.2px" transform="translate(392,1393.2) scale(1.065,0.95)">Standard Deviation (Normalized)</text>
<text class="axs" text-anchor="middle" style="font-size:22px" transform="translate(22,1042.9) rotate(-90)" textLength="334" lengthAdjust="spacingAndGlyphs">Standard Deviation (Normalized)</text>
</svg>
</body></html>
